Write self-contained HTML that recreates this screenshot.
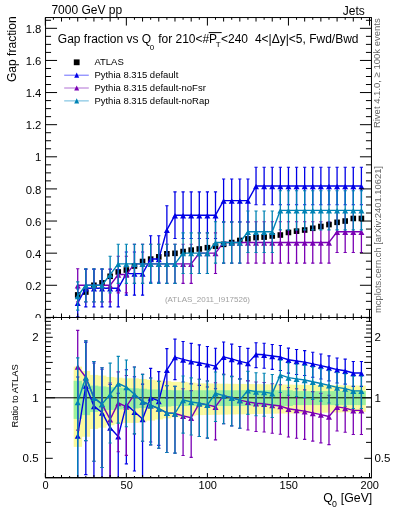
<!DOCTYPE html>
<html><head><meta charset="utf-8"><style>
html,body{margin:0;padding:0;background:#fff;}
svg{display:block;will-change:transform;}
text{font-family:"Liberation Sans", sans-serif;}
</style></head><body>
<svg width="393" height="512" viewBox="0 0 393 512">
<rect width="393" height="512" fill="#fff"/>
<clipPath id="cm"><rect x="45.55" y="17.55" width="325.9" height="299.95"/></clipPath>
<clipPath id="cr"><rect x="45.55" y="317.5" width="325.9" height="160.0"/></clipPath>
<text x="41.40" y="322.00" font-size="11.3" text-anchor="end" fill="#000" >0</text>
<text x="41.40" y="289.88" font-size="11.3" text-anchor="end" fill="#000" >0.2</text>
<text x="41.40" y="257.76" font-size="11.3" text-anchor="end" fill="#000" >0.4</text>
<text x="41.40" y="225.64" font-size="11.3" text-anchor="end" fill="#000" >0.6</text>
<text x="41.40" y="193.52" font-size="11.3" text-anchor="end" fill="#000" >0.8</text>
<text x="41.40" y="161.40" font-size="11.3" text-anchor="end" fill="#000" >1</text>
<text x="41.40" y="129.28" font-size="11.3" text-anchor="end" fill="#000" >1.2</text>
<text x="41.40" y="97.16" font-size="11.3" text-anchor="end" fill="#000" >1.4</text>
<text x="41.40" y="65.04" font-size="11.3" text-anchor="end" fill="#000" >1.6</text>
<text x="41.40" y="32.92" font-size="11.3" text-anchor="end" fill="#000" >1.8</text>
<g clip-path="url(#cm)">
<rect x="74.92" y="292.12" width="5.6" height="5.6" fill="#000"/>
<rect x="83.02" y="289.23" width="5.6" height="5.6" fill="#000"/>
<rect x="91.13" y="282.48" width="5.6" height="5.6" fill="#000"/>
<rect x="99.23" y="280.07" width="5.6" height="5.6" fill="#000"/>
<rect x="107.34" y="273.49" width="5.6" height="5.6" fill="#000"/>
<rect x="115.44" y="269.15" width="5.6" height="5.6" fill="#000"/>
<rect x="123.55" y="267.22" width="5.6" height="5.6" fill="#000"/>
<rect x="131.65" y="263.21" width="5.6" height="5.6" fill="#000"/>
<rect x="139.76" y="258.71" width="5.6" height="5.6" fill="#000"/>
<rect x="147.86" y="256.30" width="5.6" height="5.6" fill="#000"/>
<rect x="155.97" y="254.05" width="5.6" height="5.6" fill="#000"/>
<rect x="164.07" y="251.00" width="5.6" height="5.6" fill="#000"/>
<rect x="172.18" y="250.52" width="5.6" height="5.6" fill="#000"/>
<rect x="180.28" y="248.75" width="5.6" height="5.6" fill="#000"/>
<rect x="188.39" y="247.31" width="5.6" height="5.6" fill="#000"/>
<rect x="196.50" y="246.18" width="5.6" height="5.6" fill="#000"/>
<rect x="204.60" y="244.90" width="5.6" height="5.6" fill="#000"/>
<rect x="212.70" y="243.45" width="5.6" height="5.6" fill="#000"/>
<rect x="220.81" y="241.53" width="5.6" height="5.6" fill="#000"/>
<rect x="228.91" y="239.76" width="5.6" height="5.6" fill="#000"/>
<rect x="237.02" y="237.67" width="5.6" height="5.6" fill="#000"/>
<rect x="245.12" y="236.07" width="5.6" height="5.6" fill="#000"/>
<rect x="253.23" y="234.78" width="5.6" height="5.6" fill="#000"/>
<rect x="261.33" y="234.30" width="5.6" height="5.6" fill="#000"/>
<rect x="269.44" y="233.18" width="5.6" height="5.6" fill="#000"/>
<rect x="277.54" y="232.21" width="5.6" height="5.6" fill="#000"/>
<rect x="285.65" y="229.64" width="5.6" height="5.6" fill="#000"/>
<rect x="293.75" y="228.36" width="5.6" height="5.6" fill="#000"/>
<rect x="301.86" y="227.23" width="5.6" height="5.6" fill="#000"/>
<rect x="309.96" y="225.47" width="5.6" height="5.6" fill="#000"/>
<rect x="318.07" y="223.70" width="5.6" height="5.6" fill="#000"/>
<rect x="326.18" y="221.77" width="5.6" height="5.6" fill="#000"/>
<rect x="334.28" y="219.52" width="5.6" height="5.6" fill="#000"/>
<rect x="342.38" y="218.24" width="5.6" height="5.6" fill="#000"/>
<rect x="350.49" y="215.67" width="5.6" height="5.6" fill="#000"/>
<rect x="358.60" y="215.67" width="5.6" height="5.6" fill="#000"/>
<polyline points="77.72,302.80 85.82,288.20 93.93,288.20 102.03,288.20 110.14,288.20 118.24,288.20 126.35,273.60 134.45,273.60 142.56,273.60 150.66,259.00 158.77,259.00 166.88,229.80 174.98,215.20 183.08,215.20 191.19,215.20 199.30,215.20 207.40,215.20 215.50,215.20 223.61,200.60 231.71,200.60 239.82,200.60 247.93,200.60 256.03,186.00 264.13,186.00 272.24,186.00 280.34,186.00 288.45,186.00 296.56,186.00 304.66,186.00 312.76,186.00 320.87,186.00 328.98,186.00 337.08,186.00 345.19,186.00 353.29,186.00 361.40,186.00" fill="none" stroke="#0000e6" stroke-width="1.4" stroke-linejoin="round"/>
<line x1="77.72" y1="316.72" x2="77.72" y2="288.88" stroke="#0000e6" stroke-width="1.3"/>
<line x1="76.12" y1="316.72" x2="79.32" y2="316.72" stroke="#0000e6" stroke-width="1.1"/>
<line x1="76.12" y1="288.88" x2="79.32" y2="288.88" stroke="#0000e6" stroke-width="1.1"/>
<line x1="85.82" y1="306.88" x2="85.82" y2="269.52" stroke="#0000e6" stroke-width="1.3"/>
<line x1="84.22" y1="306.88" x2="87.42" y2="306.88" stroke="#0000e6" stroke-width="1.1"/>
<line x1="84.22" y1="269.52" x2="87.42" y2="269.52" stroke="#0000e6" stroke-width="1.1"/>
<line x1="93.93" y1="306.88" x2="93.93" y2="269.52" stroke="#0000e6" stroke-width="1.3"/>
<line x1="92.33" y1="306.88" x2="95.53" y2="306.88" stroke="#0000e6" stroke-width="1.1"/>
<line x1="92.33" y1="269.52" x2="95.53" y2="269.52" stroke="#0000e6" stroke-width="1.1"/>
<line x1="102.03" y1="306.88" x2="102.03" y2="269.52" stroke="#0000e6" stroke-width="1.3"/>
<line x1="100.44" y1="306.88" x2="103.63" y2="306.88" stroke="#0000e6" stroke-width="1.1"/>
<line x1="100.44" y1="269.52" x2="103.63" y2="269.52" stroke="#0000e6" stroke-width="1.1"/>
<line x1="110.14" y1="306.88" x2="110.14" y2="269.52" stroke="#0000e6" stroke-width="1.3"/>
<line x1="108.54" y1="306.88" x2="111.74" y2="306.88" stroke="#0000e6" stroke-width="1.1"/>
<line x1="108.54" y1="269.52" x2="111.74" y2="269.52" stroke="#0000e6" stroke-width="1.1"/>
<line x1="118.24" y1="306.88" x2="118.24" y2="269.52" stroke="#0000e6" stroke-width="1.3"/>
<line x1="116.64" y1="306.88" x2="119.84" y2="306.88" stroke="#0000e6" stroke-width="1.1"/>
<line x1="116.64" y1="269.52" x2="119.84" y2="269.52" stroke="#0000e6" stroke-width="1.1"/>
<line x1="126.35" y1="295.17" x2="126.35" y2="252.03" stroke="#0000e6" stroke-width="1.3"/>
<line x1="124.75" y1="295.17" x2="127.95" y2="295.17" stroke="#0000e6" stroke-width="1.1"/>
<line x1="124.75" y1="252.03" x2="127.95" y2="252.03" stroke="#0000e6" stroke-width="1.1"/>
<line x1="134.45" y1="295.17" x2="134.45" y2="252.03" stroke="#0000e6" stroke-width="1.3"/>
<line x1="132.85" y1="295.17" x2="136.05" y2="295.17" stroke="#0000e6" stroke-width="1.1"/>
<line x1="132.85" y1="252.03" x2="136.05" y2="252.03" stroke="#0000e6" stroke-width="1.1"/>
<line x1="142.56" y1="295.17" x2="142.56" y2="252.03" stroke="#0000e6" stroke-width="1.3"/>
<line x1="140.96" y1="295.17" x2="144.16" y2="295.17" stroke="#0000e6" stroke-width="1.1"/>
<line x1="140.96" y1="252.03" x2="144.16" y2="252.03" stroke="#0000e6" stroke-width="1.1"/>
<line x1="150.66" y1="282.29" x2="150.66" y2="235.71" stroke="#0000e6" stroke-width="1.3"/>
<line x1="149.06" y1="282.29" x2="152.26" y2="282.29" stroke="#0000e6" stroke-width="1.1"/>
<line x1="149.06" y1="235.71" x2="152.26" y2="235.71" stroke="#0000e6" stroke-width="1.1"/>
<line x1="158.77" y1="282.29" x2="158.77" y2="235.71" stroke="#0000e6" stroke-width="1.3"/>
<line x1="157.17" y1="282.29" x2="160.37" y2="282.29" stroke="#0000e6" stroke-width="1.1"/>
<line x1="157.17" y1="235.71" x2="160.37" y2="235.71" stroke="#0000e6" stroke-width="1.1"/>
<line x1="166.88" y1="253.91" x2="166.88" y2="205.69" stroke="#0000e6" stroke-width="1.3"/>
<line x1="165.28" y1="253.91" x2="168.47" y2="253.91" stroke="#0000e6" stroke-width="1.1"/>
<line x1="165.28" y1="205.69" x2="168.47" y2="205.69" stroke="#0000e6" stroke-width="1.1"/>
<line x1="174.98" y1="238.49" x2="174.98" y2="191.91" stroke="#0000e6" stroke-width="1.3"/>
<line x1="173.38" y1="238.49" x2="176.58" y2="238.49" stroke="#0000e6" stroke-width="1.1"/>
<line x1="173.38" y1="191.91" x2="176.58" y2="191.91" stroke="#0000e6" stroke-width="1.1"/>
<line x1="183.08" y1="238.49" x2="183.08" y2="191.91" stroke="#0000e6" stroke-width="1.3"/>
<line x1="181.48" y1="238.49" x2="184.68" y2="238.49" stroke="#0000e6" stroke-width="1.1"/>
<line x1="181.48" y1="191.91" x2="184.68" y2="191.91" stroke="#0000e6" stroke-width="1.1"/>
<line x1="191.19" y1="238.49" x2="191.19" y2="191.91" stroke="#0000e6" stroke-width="1.3"/>
<line x1="189.59" y1="238.49" x2="192.79" y2="238.49" stroke="#0000e6" stroke-width="1.1"/>
<line x1="189.59" y1="191.91" x2="192.79" y2="191.91" stroke="#0000e6" stroke-width="1.1"/>
<line x1="199.30" y1="238.49" x2="199.30" y2="191.91" stroke="#0000e6" stroke-width="1.3"/>
<line x1="197.70" y1="238.49" x2="200.90" y2="238.49" stroke="#0000e6" stroke-width="1.1"/>
<line x1="197.70" y1="191.91" x2="200.90" y2="191.91" stroke="#0000e6" stroke-width="1.1"/>
<line x1="207.40" y1="238.49" x2="207.40" y2="191.91" stroke="#0000e6" stroke-width="1.3"/>
<line x1="205.80" y1="238.49" x2="209.00" y2="238.49" stroke="#0000e6" stroke-width="1.1"/>
<line x1="205.80" y1="191.91" x2="209.00" y2="191.91" stroke="#0000e6" stroke-width="1.1"/>
<line x1="215.50" y1="238.49" x2="215.50" y2="191.91" stroke="#0000e6" stroke-width="1.3"/>
<line x1="213.91" y1="238.49" x2="217.10" y2="238.49" stroke="#0000e6" stroke-width="1.1"/>
<line x1="213.91" y1="191.91" x2="217.10" y2="191.91" stroke="#0000e6" stroke-width="1.1"/>
<line x1="223.61" y1="222.17" x2="223.61" y2="179.03" stroke="#0000e6" stroke-width="1.3"/>
<line x1="222.01" y1="222.17" x2="225.21" y2="222.17" stroke="#0000e6" stroke-width="1.1"/>
<line x1="222.01" y1="179.03" x2="225.21" y2="179.03" stroke="#0000e6" stroke-width="1.1"/>
<line x1="231.71" y1="222.17" x2="231.71" y2="179.03" stroke="#0000e6" stroke-width="1.3"/>
<line x1="230.11" y1="222.17" x2="233.31" y2="222.17" stroke="#0000e6" stroke-width="1.1"/>
<line x1="230.11" y1="179.03" x2="233.31" y2="179.03" stroke="#0000e6" stroke-width="1.1"/>
<line x1="239.82" y1="222.17" x2="239.82" y2="179.03" stroke="#0000e6" stroke-width="1.3"/>
<line x1="238.22" y1="222.17" x2="241.42" y2="222.17" stroke="#0000e6" stroke-width="1.1"/>
<line x1="238.22" y1="179.03" x2="241.42" y2="179.03" stroke="#0000e6" stroke-width="1.1"/>
<line x1="247.93" y1="222.17" x2="247.93" y2="179.03" stroke="#0000e6" stroke-width="1.3"/>
<line x1="246.33" y1="222.17" x2="249.53" y2="222.17" stroke="#0000e6" stroke-width="1.1"/>
<line x1="246.33" y1="179.03" x2="249.53" y2="179.03" stroke="#0000e6" stroke-width="1.1"/>
<line x1="256.03" y1="204.68" x2="256.03" y2="167.32" stroke="#0000e6" stroke-width="1.3"/>
<line x1="254.43" y1="204.68" x2="257.63" y2="204.68" stroke="#0000e6" stroke-width="1.1"/>
<line x1="254.43" y1="167.32" x2="257.63" y2="167.32" stroke="#0000e6" stroke-width="1.1"/>
<line x1="264.13" y1="204.68" x2="264.13" y2="167.32" stroke="#0000e6" stroke-width="1.3"/>
<line x1="262.53" y1="204.68" x2="265.74" y2="204.68" stroke="#0000e6" stroke-width="1.1"/>
<line x1="262.53" y1="167.32" x2="265.74" y2="167.32" stroke="#0000e6" stroke-width="1.1"/>
<line x1="272.24" y1="204.68" x2="272.24" y2="167.32" stroke="#0000e6" stroke-width="1.3"/>
<line x1="270.64" y1="204.68" x2="273.84" y2="204.68" stroke="#0000e6" stroke-width="1.1"/>
<line x1="270.64" y1="167.32" x2="273.84" y2="167.32" stroke="#0000e6" stroke-width="1.1"/>
<line x1="280.34" y1="204.68" x2="280.34" y2="167.32" stroke="#0000e6" stroke-width="1.3"/>
<line x1="278.74" y1="204.68" x2="281.94" y2="204.68" stroke="#0000e6" stroke-width="1.1"/>
<line x1="278.74" y1="167.32" x2="281.94" y2="167.32" stroke="#0000e6" stroke-width="1.1"/>
<line x1="288.45" y1="204.68" x2="288.45" y2="167.32" stroke="#0000e6" stroke-width="1.3"/>
<line x1="286.85" y1="204.68" x2="290.05" y2="204.68" stroke="#0000e6" stroke-width="1.1"/>
<line x1="286.85" y1="167.32" x2="290.05" y2="167.32" stroke="#0000e6" stroke-width="1.1"/>
<line x1="296.56" y1="204.68" x2="296.56" y2="167.32" stroke="#0000e6" stroke-width="1.3"/>
<line x1="294.95" y1="204.68" x2="298.16" y2="204.68" stroke="#0000e6" stroke-width="1.1"/>
<line x1="294.95" y1="167.32" x2="298.16" y2="167.32" stroke="#0000e6" stroke-width="1.1"/>
<line x1="304.66" y1="204.68" x2="304.66" y2="167.32" stroke="#0000e6" stroke-width="1.3"/>
<line x1="303.06" y1="204.68" x2="306.26" y2="204.68" stroke="#0000e6" stroke-width="1.1"/>
<line x1="303.06" y1="167.32" x2="306.26" y2="167.32" stroke="#0000e6" stroke-width="1.1"/>
<line x1="312.76" y1="204.68" x2="312.76" y2="167.32" stroke="#0000e6" stroke-width="1.3"/>
<line x1="311.16" y1="204.68" x2="314.37" y2="204.68" stroke="#0000e6" stroke-width="1.1"/>
<line x1="311.16" y1="167.32" x2="314.37" y2="167.32" stroke="#0000e6" stroke-width="1.1"/>
<line x1="320.87" y1="204.68" x2="320.87" y2="167.32" stroke="#0000e6" stroke-width="1.3"/>
<line x1="319.27" y1="204.68" x2="322.47" y2="204.68" stroke="#0000e6" stroke-width="1.1"/>
<line x1="319.27" y1="167.32" x2="322.47" y2="167.32" stroke="#0000e6" stroke-width="1.1"/>
<line x1="328.98" y1="204.68" x2="328.98" y2="167.32" stroke="#0000e6" stroke-width="1.3"/>
<line x1="327.38" y1="204.68" x2="330.58" y2="204.68" stroke="#0000e6" stroke-width="1.1"/>
<line x1="327.38" y1="167.32" x2="330.58" y2="167.32" stroke="#0000e6" stroke-width="1.1"/>
<line x1="337.08" y1="204.68" x2="337.08" y2="167.32" stroke="#0000e6" stroke-width="1.3"/>
<line x1="335.48" y1="204.68" x2="338.68" y2="204.68" stroke="#0000e6" stroke-width="1.1"/>
<line x1="335.48" y1="167.32" x2="338.68" y2="167.32" stroke="#0000e6" stroke-width="1.1"/>
<line x1="345.19" y1="204.68" x2="345.19" y2="167.32" stroke="#0000e6" stroke-width="1.3"/>
<line x1="343.58" y1="204.68" x2="346.79" y2="204.68" stroke="#0000e6" stroke-width="1.1"/>
<line x1="343.58" y1="167.32" x2="346.79" y2="167.32" stroke="#0000e6" stroke-width="1.1"/>
<line x1="353.29" y1="204.68" x2="353.29" y2="167.32" stroke="#0000e6" stroke-width="1.3"/>
<line x1="351.69" y1="204.68" x2="354.89" y2="204.68" stroke="#0000e6" stroke-width="1.1"/>
<line x1="351.69" y1="167.32" x2="354.89" y2="167.32" stroke="#0000e6" stroke-width="1.1"/>
<line x1="361.40" y1="204.68" x2="361.40" y2="167.32" stroke="#0000e6" stroke-width="1.3"/>
<line x1="359.80" y1="204.68" x2="363.00" y2="204.68" stroke="#0000e6" stroke-width="1.1"/>
<line x1="359.80" y1="167.32" x2="363.00" y2="167.32" stroke="#0000e6" stroke-width="1.1"/>
<path d="M74.72,306.00 L80.72,306.00 L77.72,300.50 Z" fill="#0000e6"/>
<path d="M82.82,291.40 L88.82,291.40 L85.82,285.90 Z" fill="#0000e6"/>
<path d="M90.93,291.40 L96.93,291.40 L93.93,285.90 Z" fill="#0000e6"/>
<path d="M99.03,291.40 L105.03,291.40 L102.03,285.90 Z" fill="#0000e6"/>
<path d="M107.14,291.40 L113.14,291.40 L110.14,285.90 Z" fill="#0000e6"/>
<path d="M115.24,291.40 L121.24,291.40 L118.24,285.90 Z" fill="#0000e6"/>
<path d="M123.35,276.80 L129.35,276.80 L126.35,271.30 Z" fill="#0000e6"/>
<path d="M131.45,276.80 L137.45,276.80 L134.45,271.30 Z" fill="#0000e6"/>
<path d="M139.56,276.80 L145.56,276.80 L142.56,271.30 Z" fill="#0000e6"/>
<path d="M147.66,262.20 L153.66,262.20 L150.66,256.70 Z" fill="#0000e6"/>
<path d="M155.77,262.20 L161.77,262.20 L158.77,256.70 Z" fill="#0000e6"/>
<path d="M163.88,233.00 L169.88,233.00 L166.88,227.50 Z" fill="#0000e6"/>
<path d="M171.98,218.40 L177.98,218.40 L174.98,212.90 Z" fill="#0000e6"/>
<path d="M180.08,218.40 L186.08,218.40 L183.08,212.90 Z" fill="#0000e6"/>
<path d="M188.19,218.40 L194.19,218.40 L191.19,212.90 Z" fill="#0000e6"/>
<path d="M196.30,218.40 L202.30,218.40 L199.30,212.90 Z" fill="#0000e6"/>
<path d="M204.40,218.40 L210.40,218.40 L207.40,212.90 Z" fill="#0000e6"/>
<path d="M212.50,218.40 L218.50,218.40 L215.50,212.90 Z" fill="#0000e6"/>
<path d="M220.61,203.80 L226.61,203.80 L223.61,198.30 Z" fill="#0000e6"/>
<path d="M228.71,203.80 L234.71,203.80 L231.71,198.30 Z" fill="#0000e6"/>
<path d="M236.82,203.80 L242.82,203.80 L239.82,198.30 Z" fill="#0000e6"/>
<path d="M244.93,203.80 L250.93,203.80 L247.93,198.30 Z" fill="#0000e6"/>
<path d="M253.03,189.20 L259.03,189.20 L256.03,183.70 Z" fill="#0000e6"/>
<path d="M261.13,189.20 L267.13,189.20 L264.13,183.70 Z" fill="#0000e6"/>
<path d="M269.24,189.20 L275.24,189.20 L272.24,183.70 Z" fill="#0000e6"/>
<path d="M277.34,189.20 L283.34,189.20 L280.34,183.70 Z" fill="#0000e6"/>
<path d="M285.45,189.20 L291.45,189.20 L288.45,183.70 Z" fill="#0000e6"/>
<path d="M293.56,189.20 L299.56,189.20 L296.56,183.70 Z" fill="#0000e6"/>
<path d="M301.66,189.20 L307.66,189.20 L304.66,183.70 Z" fill="#0000e6"/>
<path d="M309.76,189.20 L315.76,189.20 L312.76,183.70 Z" fill="#0000e6"/>
<path d="M317.87,189.20 L323.87,189.20 L320.87,183.70 Z" fill="#0000e6"/>
<path d="M325.98,189.20 L331.98,189.20 L328.98,183.70 Z" fill="#0000e6"/>
<path d="M334.08,189.20 L340.08,189.20 L337.08,183.70 Z" fill="#0000e6"/>
<path d="M342.19,189.20 L348.19,189.20 L345.19,183.70 Z" fill="#0000e6"/>
<path d="M350.29,189.20 L356.29,189.20 L353.29,183.70 Z" fill="#0000e6"/>
<path d="M358.40,189.20 L364.40,189.20 L361.40,183.70 Z" fill="#0000e6"/>
<polyline points="77.72,285.28 85.82,285.28 93.93,285.28 102.03,285.28 110.14,285.28 118.24,274.57 126.35,274.57 134.45,263.87 142.56,263.87 150.66,263.87 158.77,263.87 166.88,263.87 174.98,263.87 183.08,263.87 191.19,263.87 199.30,253.16 207.40,253.16 215.50,253.16 223.61,242.45 231.71,242.45 239.82,242.45 247.93,242.45 256.03,242.45 264.13,242.45 272.24,242.45 280.34,242.45 288.45,242.45 296.56,242.45 304.66,242.45 312.76,242.45 320.87,242.45 328.98,242.45 337.08,231.75 345.19,231.75 353.29,231.75 361.40,231.75" fill="none" stroke="#7a00b4" stroke-width="1.4" stroke-linejoin="round"/>
<line x1="77.72" y1="301.87" x2="77.72" y2="268.69" stroke="#7a00b4" stroke-width="1.3"/>
<line x1="76.12" y1="301.87" x2="79.32" y2="301.87" stroke="#7a00b4" stroke-width="1.1"/>
<line x1="76.12" y1="268.69" x2="79.32" y2="268.69" stroke="#7a00b4" stroke-width="1.1"/>
<line x1="85.82" y1="301.87" x2="85.82" y2="268.69" stroke="#7a00b4" stroke-width="1.3"/>
<line x1="84.22" y1="301.87" x2="87.42" y2="301.87" stroke="#7a00b4" stroke-width="1.1"/>
<line x1="84.22" y1="268.69" x2="87.42" y2="268.69" stroke="#7a00b4" stroke-width="1.1"/>
<line x1="93.93" y1="301.87" x2="93.93" y2="268.69" stroke="#7a00b4" stroke-width="1.3"/>
<line x1="92.33" y1="301.87" x2="95.53" y2="301.87" stroke="#7a00b4" stroke-width="1.1"/>
<line x1="92.33" y1="268.69" x2="95.53" y2="268.69" stroke="#7a00b4" stroke-width="1.1"/>
<line x1="102.03" y1="301.87" x2="102.03" y2="268.69" stroke="#7a00b4" stroke-width="1.3"/>
<line x1="100.44" y1="301.87" x2="103.63" y2="301.87" stroke="#7a00b4" stroke-width="1.1"/>
<line x1="100.44" y1="268.69" x2="103.63" y2="268.69" stroke="#7a00b4" stroke-width="1.1"/>
<line x1="110.14" y1="301.87" x2="110.14" y2="268.69" stroke="#7a00b4" stroke-width="1.3"/>
<line x1="108.54" y1="301.87" x2="111.74" y2="301.87" stroke="#7a00b4" stroke-width="1.1"/>
<line x1="108.54" y1="268.69" x2="111.74" y2="268.69" stroke="#7a00b4" stroke-width="1.1"/>
<line x1="118.24" y1="292.91" x2="118.24" y2="256.24" stroke="#7a00b4" stroke-width="1.3"/>
<line x1="116.64" y1="292.91" x2="119.84" y2="292.91" stroke="#7a00b4" stroke-width="1.1"/>
<line x1="116.64" y1="256.24" x2="119.84" y2="256.24" stroke="#7a00b4" stroke-width="1.1"/>
<line x1="126.35" y1="292.91" x2="126.35" y2="256.24" stroke="#7a00b4" stroke-width="1.3"/>
<line x1="124.75" y1="292.91" x2="127.95" y2="292.91" stroke="#7a00b4" stroke-width="1.1"/>
<line x1="124.75" y1="256.24" x2="127.95" y2="256.24" stroke="#7a00b4" stroke-width="1.1"/>
<line x1="134.45" y1="283.41" x2="134.45" y2="244.32" stroke="#7a00b4" stroke-width="1.3"/>
<line x1="132.85" y1="283.41" x2="136.05" y2="283.41" stroke="#7a00b4" stroke-width="1.1"/>
<line x1="132.85" y1="244.32" x2="136.05" y2="244.32" stroke="#7a00b4" stroke-width="1.1"/>
<line x1="142.56" y1="283.41" x2="142.56" y2="244.32" stroke="#7a00b4" stroke-width="1.3"/>
<line x1="140.96" y1="283.41" x2="144.16" y2="283.41" stroke="#7a00b4" stroke-width="1.1"/>
<line x1="140.96" y1="244.32" x2="144.16" y2="244.32" stroke="#7a00b4" stroke-width="1.1"/>
<line x1="150.66" y1="283.41" x2="150.66" y2="244.32" stroke="#7a00b4" stroke-width="1.3"/>
<line x1="149.06" y1="283.41" x2="152.26" y2="283.41" stroke="#7a00b4" stroke-width="1.1"/>
<line x1="149.06" y1="244.32" x2="152.26" y2="244.32" stroke="#7a00b4" stroke-width="1.1"/>
<line x1="158.77" y1="283.41" x2="158.77" y2="244.32" stroke="#7a00b4" stroke-width="1.3"/>
<line x1="157.17" y1="283.41" x2="160.37" y2="283.41" stroke="#7a00b4" stroke-width="1.1"/>
<line x1="157.17" y1="244.32" x2="160.37" y2="244.32" stroke="#7a00b4" stroke-width="1.1"/>
<line x1="166.88" y1="283.41" x2="166.88" y2="244.32" stroke="#7a00b4" stroke-width="1.3"/>
<line x1="165.28" y1="283.41" x2="168.47" y2="283.41" stroke="#7a00b4" stroke-width="1.1"/>
<line x1="165.28" y1="244.32" x2="168.47" y2="244.32" stroke="#7a00b4" stroke-width="1.1"/>
<line x1="174.98" y1="283.41" x2="174.98" y2="244.32" stroke="#7a00b4" stroke-width="1.3"/>
<line x1="173.38" y1="283.41" x2="176.58" y2="283.41" stroke="#7a00b4" stroke-width="1.1"/>
<line x1="173.38" y1="244.32" x2="176.58" y2="244.32" stroke="#7a00b4" stroke-width="1.1"/>
<line x1="183.08" y1="283.41" x2="183.08" y2="244.32" stroke="#7a00b4" stroke-width="1.3"/>
<line x1="181.48" y1="283.41" x2="184.68" y2="283.41" stroke="#7a00b4" stroke-width="1.1"/>
<line x1="181.48" y1="244.32" x2="184.68" y2="244.32" stroke="#7a00b4" stroke-width="1.1"/>
<line x1="191.19" y1="283.41" x2="191.19" y2="244.32" stroke="#7a00b4" stroke-width="1.3"/>
<line x1="189.59" y1="283.41" x2="192.79" y2="283.41" stroke="#7a00b4" stroke-width="1.1"/>
<line x1="189.59" y1="244.32" x2="192.79" y2="244.32" stroke="#7a00b4" stroke-width="1.1"/>
<line x1="199.30" y1="273.47" x2="199.30" y2="232.85" stroke="#7a00b4" stroke-width="1.3"/>
<line x1="197.70" y1="273.47" x2="200.90" y2="273.47" stroke="#7a00b4" stroke-width="1.1"/>
<line x1="197.70" y1="232.85" x2="200.90" y2="232.85" stroke="#7a00b4" stroke-width="1.1"/>
<line x1="207.40" y1="273.47" x2="207.40" y2="232.85" stroke="#7a00b4" stroke-width="1.3"/>
<line x1="205.80" y1="273.47" x2="209.00" y2="273.47" stroke="#7a00b4" stroke-width="1.1"/>
<line x1="205.80" y1="232.85" x2="209.00" y2="232.85" stroke="#7a00b4" stroke-width="1.1"/>
<line x1="215.50" y1="273.47" x2="215.50" y2="232.85" stroke="#7a00b4" stroke-width="1.3"/>
<line x1="213.91" y1="273.47" x2="217.10" y2="273.47" stroke="#7a00b4" stroke-width="1.1"/>
<line x1="213.91" y1="232.85" x2="217.10" y2="232.85" stroke="#7a00b4" stroke-width="1.1"/>
<line x1="223.61" y1="263.14" x2="223.61" y2="221.77" stroke="#7a00b4" stroke-width="1.3"/>
<line x1="222.01" y1="263.14" x2="225.21" y2="263.14" stroke="#7a00b4" stroke-width="1.1"/>
<line x1="222.01" y1="221.77" x2="225.21" y2="221.77" stroke="#7a00b4" stroke-width="1.1"/>
<line x1="231.71" y1="263.14" x2="231.71" y2="221.77" stroke="#7a00b4" stroke-width="1.3"/>
<line x1="230.11" y1="263.14" x2="233.31" y2="263.14" stroke="#7a00b4" stroke-width="1.1"/>
<line x1="230.11" y1="221.77" x2="233.31" y2="221.77" stroke="#7a00b4" stroke-width="1.1"/>
<line x1="239.82" y1="263.14" x2="239.82" y2="221.77" stroke="#7a00b4" stroke-width="1.3"/>
<line x1="238.22" y1="263.14" x2="241.42" y2="263.14" stroke="#7a00b4" stroke-width="1.1"/>
<line x1="238.22" y1="221.77" x2="241.42" y2="221.77" stroke="#7a00b4" stroke-width="1.1"/>
<line x1="247.93" y1="263.14" x2="247.93" y2="221.77" stroke="#7a00b4" stroke-width="1.3"/>
<line x1="246.33" y1="263.14" x2="249.53" y2="263.14" stroke="#7a00b4" stroke-width="1.1"/>
<line x1="246.33" y1="221.77" x2="249.53" y2="221.77" stroke="#7a00b4" stroke-width="1.1"/>
<line x1="256.03" y1="263.14" x2="256.03" y2="221.77" stroke="#7a00b4" stroke-width="1.3"/>
<line x1="254.43" y1="263.14" x2="257.63" y2="263.14" stroke="#7a00b4" stroke-width="1.1"/>
<line x1="254.43" y1="221.77" x2="257.63" y2="221.77" stroke="#7a00b4" stroke-width="1.1"/>
<line x1="264.13" y1="263.14" x2="264.13" y2="221.77" stroke="#7a00b4" stroke-width="1.3"/>
<line x1="262.53" y1="263.14" x2="265.74" y2="263.14" stroke="#7a00b4" stroke-width="1.1"/>
<line x1="262.53" y1="221.77" x2="265.74" y2="221.77" stroke="#7a00b4" stroke-width="1.1"/>
<line x1="272.24" y1="263.14" x2="272.24" y2="221.77" stroke="#7a00b4" stroke-width="1.3"/>
<line x1="270.64" y1="263.14" x2="273.84" y2="263.14" stroke="#7a00b4" stroke-width="1.1"/>
<line x1="270.64" y1="221.77" x2="273.84" y2="221.77" stroke="#7a00b4" stroke-width="1.1"/>
<line x1="280.34" y1="263.14" x2="280.34" y2="221.77" stroke="#7a00b4" stroke-width="1.3"/>
<line x1="278.74" y1="263.14" x2="281.94" y2="263.14" stroke="#7a00b4" stroke-width="1.1"/>
<line x1="278.74" y1="221.77" x2="281.94" y2="221.77" stroke="#7a00b4" stroke-width="1.1"/>
<line x1="288.45" y1="263.14" x2="288.45" y2="221.77" stroke="#7a00b4" stroke-width="1.3"/>
<line x1="286.85" y1="263.14" x2="290.05" y2="263.14" stroke="#7a00b4" stroke-width="1.1"/>
<line x1="286.85" y1="221.77" x2="290.05" y2="221.77" stroke="#7a00b4" stroke-width="1.1"/>
<line x1="296.56" y1="263.14" x2="296.56" y2="221.77" stroke="#7a00b4" stroke-width="1.3"/>
<line x1="294.95" y1="263.14" x2="298.16" y2="263.14" stroke="#7a00b4" stroke-width="1.1"/>
<line x1="294.95" y1="221.77" x2="298.16" y2="221.77" stroke="#7a00b4" stroke-width="1.1"/>
<line x1="304.66" y1="263.14" x2="304.66" y2="221.77" stroke="#7a00b4" stroke-width="1.3"/>
<line x1="303.06" y1="263.14" x2="306.26" y2="263.14" stroke="#7a00b4" stroke-width="1.1"/>
<line x1="303.06" y1="221.77" x2="306.26" y2="221.77" stroke="#7a00b4" stroke-width="1.1"/>
<line x1="312.76" y1="263.14" x2="312.76" y2="221.77" stroke="#7a00b4" stroke-width="1.3"/>
<line x1="311.16" y1="263.14" x2="314.37" y2="263.14" stroke="#7a00b4" stroke-width="1.1"/>
<line x1="311.16" y1="221.77" x2="314.37" y2="221.77" stroke="#7a00b4" stroke-width="1.1"/>
<line x1="320.87" y1="263.14" x2="320.87" y2="221.77" stroke="#7a00b4" stroke-width="1.3"/>
<line x1="319.27" y1="263.14" x2="322.47" y2="263.14" stroke="#7a00b4" stroke-width="1.1"/>
<line x1="319.27" y1="221.77" x2="322.47" y2="221.77" stroke="#7a00b4" stroke-width="1.1"/>
<line x1="328.98" y1="263.14" x2="328.98" y2="221.77" stroke="#7a00b4" stroke-width="1.3"/>
<line x1="327.38" y1="263.14" x2="330.58" y2="263.14" stroke="#7a00b4" stroke-width="1.1"/>
<line x1="327.38" y1="221.77" x2="330.58" y2="221.77" stroke="#7a00b4" stroke-width="1.1"/>
<line x1="337.08" y1="252.43" x2="337.08" y2="211.06" stroke="#7a00b4" stroke-width="1.3"/>
<line x1="335.48" y1="252.43" x2="338.68" y2="252.43" stroke="#7a00b4" stroke-width="1.1"/>
<line x1="335.48" y1="211.06" x2="338.68" y2="211.06" stroke="#7a00b4" stroke-width="1.1"/>
<line x1="345.19" y1="252.43" x2="345.19" y2="211.06" stroke="#7a00b4" stroke-width="1.3"/>
<line x1="343.58" y1="252.43" x2="346.79" y2="252.43" stroke="#7a00b4" stroke-width="1.1"/>
<line x1="343.58" y1="211.06" x2="346.79" y2="211.06" stroke="#7a00b4" stroke-width="1.1"/>
<line x1="353.29" y1="252.43" x2="353.29" y2="211.06" stroke="#7a00b4" stroke-width="1.3"/>
<line x1="351.69" y1="252.43" x2="354.89" y2="252.43" stroke="#7a00b4" stroke-width="1.1"/>
<line x1="351.69" y1="211.06" x2="354.89" y2="211.06" stroke="#7a00b4" stroke-width="1.1"/>
<line x1="361.40" y1="252.43" x2="361.40" y2="211.06" stroke="#7a00b4" stroke-width="1.3"/>
<line x1="359.80" y1="252.43" x2="363.00" y2="252.43" stroke="#7a00b4" stroke-width="1.1"/>
<line x1="359.80" y1="211.06" x2="363.00" y2="211.06" stroke="#7a00b4" stroke-width="1.1"/>
<path d="M74.72,288.48 L80.72,288.48 L77.72,282.98 Z" fill="#7a00b4"/>
<path d="M82.82,288.48 L88.82,288.48 L85.82,282.98 Z" fill="#7a00b4"/>
<path d="M90.93,288.48 L96.93,288.48 L93.93,282.98 Z" fill="#7a00b4"/>
<path d="M99.03,288.48 L105.03,288.48 L102.03,282.98 Z" fill="#7a00b4"/>
<path d="M107.14,288.48 L113.14,288.48 L110.14,282.98 Z" fill="#7a00b4"/>
<path d="M115.24,277.77 L121.24,277.77 L118.24,272.27 Z" fill="#7a00b4"/>
<path d="M123.35,277.77 L129.35,277.77 L126.35,272.27 Z" fill="#7a00b4"/>
<path d="M131.45,267.07 L137.45,267.07 L134.45,261.57 Z" fill="#7a00b4"/>
<path d="M139.56,267.07 L145.56,267.07 L142.56,261.57 Z" fill="#7a00b4"/>
<path d="M147.66,267.07 L153.66,267.07 L150.66,261.57 Z" fill="#7a00b4"/>
<path d="M155.77,267.07 L161.77,267.07 L158.77,261.57 Z" fill="#7a00b4"/>
<path d="M163.88,267.07 L169.88,267.07 L166.88,261.57 Z" fill="#7a00b4"/>
<path d="M171.98,267.07 L177.98,267.07 L174.98,261.57 Z" fill="#7a00b4"/>
<path d="M180.08,267.07 L186.08,267.07 L183.08,261.57 Z" fill="#7a00b4"/>
<path d="M188.19,267.07 L194.19,267.07 L191.19,261.57 Z" fill="#7a00b4"/>
<path d="M196.30,256.36 L202.30,256.36 L199.30,250.86 Z" fill="#7a00b4"/>
<path d="M204.40,256.36 L210.40,256.36 L207.40,250.86 Z" fill="#7a00b4"/>
<path d="M212.50,256.36 L218.50,256.36 L215.50,250.86 Z" fill="#7a00b4"/>
<path d="M220.61,245.65 L226.61,245.65 L223.61,240.15 Z" fill="#7a00b4"/>
<path d="M228.71,245.65 L234.71,245.65 L231.71,240.15 Z" fill="#7a00b4"/>
<path d="M236.82,245.65 L242.82,245.65 L239.82,240.15 Z" fill="#7a00b4"/>
<path d="M244.93,245.65 L250.93,245.65 L247.93,240.15 Z" fill="#7a00b4"/>
<path d="M253.03,245.65 L259.03,245.65 L256.03,240.15 Z" fill="#7a00b4"/>
<path d="M261.13,245.65 L267.13,245.65 L264.13,240.15 Z" fill="#7a00b4"/>
<path d="M269.24,245.65 L275.24,245.65 L272.24,240.15 Z" fill="#7a00b4"/>
<path d="M277.34,245.65 L283.34,245.65 L280.34,240.15 Z" fill="#7a00b4"/>
<path d="M285.45,245.65 L291.45,245.65 L288.45,240.15 Z" fill="#7a00b4"/>
<path d="M293.56,245.65 L299.56,245.65 L296.56,240.15 Z" fill="#7a00b4"/>
<path d="M301.66,245.65 L307.66,245.65 L304.66,240.15 Z" fill="#7a00b4"/>
<path d="M309.76,245.65 L315.76,245.65 L312.76,240.15 Z" fill="#7a00b4"/>
<path d="M317.87,245.65 L323.87,245.65 L320.87,240.15 Z" fill="#7a00b4"/>
<path d="M325.98,245.65 L331.98,245.65 L328.98,240.15 Z" fill="#7a00b4"/>
<path d="M334.08,234.95 L340.08,234.95 L337.08,229.45 Z" fill="#7a00b4"/>
<path d="M342.19,234.95 L348.19,234.95 L345.19,229.45 Z" fill="#7a00b4"/>
<path d="M350.29,234.95 L356.29,234.95 L353.29,229.45 Z" fill="#7a00b4"/>
<path d="M358.40,234.95 L364.40,234.95 L361.40,229.45 Z" fill="#7a00b4"/>
<polyline points="77.72,295.99 85.82,285.28 93.93,285.28 102.03,285.28 110.14,274.57 118.24,263.87 126.35,263.87 134.45,263.87 142.56,263.87 150.66,263.87 158.77,263.87 166.88,263.87 174.98,263.87 183.08,253.16 191.19,253.16 199.30,253.16 207.40,253.16 215.50,242.45 223.61,242.45 231.71,242.45 239.82,242.45 247.93,231.75 256.03,231.75 264.13,231.75 272.24,231.75 280.34,210.33 288.45,210.33 296.56,210.33 304.66,210.33 312.76,210.33 320.87,210.33 328.98,210.33 337.08,210.33 345.19,210.33 353.29,210.33 361.40,210.33" fill="none" stroke="#0083b4" stroke-width="1.4" stroke-linejoin="round"/>
<line x1="77.72" y1="310.08" x2="77.72" y2="281.89" stroke="#0083b4" stroke-width="1.3"/>
<line x1="76.12" y1="310.08" x2="79.32" y2="310.08" stroke="#0083b4" stroke-width="1.1"/>
<line x1="76.12" y1="281.89" x2="79.32" y2="281.89" stroke="#0083b4" stroke-width="1.1"/>
<line x1="85.82" y1="301.87" x2="85.82" y2="268.69" stroke="#0083b4" stroke-width="1.3"/>
<line x1="84.22" y1="301.87" x2="87.42" y2="301.87" stroke="#0083b4" stroke-width="1.1"/>
<line x1="84.22" y1="268.69" x2="87.42" y2="268.69" stroke="#0083b4" stroke-width="1.1"/>
<line x1="93.93" y1="301.87" x2="93.93" y2="268.69" stroke="#0083b4" stroke-width="1.3"/>
<line x1="92.33" y1="301.87" x2="95.53" y2="301.87" stroke="#0083b4" stroke-width="1.1"/>
<line x1="92.33" y1="268.69" x2="95.53" y2="268.69" stroke="#0083b4" stroke-width="1.1"/>
<line x1="102.03" y1="301.87" x2="102.03" y2="268.69" stroke="#0083b4" stroke-width="1.3"/>
<line x1="100.44" y1="301.87" x2="103.63" y2="301.87" stroke="#0083b4" stroke-width="1.1"/>
<line x1="100.44" y1="268.69" x2="103.63" y2="268.69" stroke="#0083b4" stroke-width="1.1"/>
<line x1="110.14" y1="292.91" x2="110.14" y2="256.24" stroke="#0083b4" stroke-width="1.3"/>
<line x1="108.54" y1="292.91" x2="111.74" y2="292.91" stroke="#0083b4" stroke-width="1.1"/>
<line x1="108.54" y1="256.24" x2="111.74" y2="256.24" stroke="#0083b4" stroke-width="1.1"/>
<line x1="118.24" y1="283.41" x2="118.24" y2="244.32" stroke="#0083b4" stroke-width="1.3"/>
<line x1="116.64" y1="283.41" x2="119.84" y2="283.41" stroke="#0083b4" stroke-width="1.1"/>
<line x1="116.64" y1="244.32" x2="119.84" y2="244.32" stroke="#0083b4" stroke-width="1.1"/>
<line x1="126.35" y1="283.41" x2="126.35" y2="244.32" stroke="#0083b4" stroke-width="1.3"/>
<line x1="124.75" y1="283.41" x2="127.95" y2="283.41" stroke="#0083b4" stroke-width="1.1"/>
<line x1="124.75" y1="244.32" x2="127.95" y2="244.32" stroke="#0083b4" stroke-width="1.1"/>
<line x1="134.45" y1="283.41" x2="134.45" y2="244.32" stroke="#0083b4" stroke-width="1.3"/>
<line x1="132.85" y1="283.41" x2="136.05" y2="283.41" stroke="#0083b4" stroke-width="1.1"/>
<line x1="132.85" y1="244.32" x2="136.05" y2="244.32" stroke="#0083b4" stroke-width="1.1"/>
<line x1="142.56" y1="283.41" x2="142.56" y2="244.32" stroke="#0083b4" stroke-width="1.3"/>
<line x1="140.96" y1="283.41" x2="144.16" y2="283.41" stroke="#0083b4" stroke-width="1.1"/>
<line x1="140.96" y1="244.32" x2="144.16" y2="244.32" stroke="#0083b4" stroke-width="1.1"/>
<line x1="150.66" y1="283.41" x2="150.66" y2="244.32" stroke="#0083b4" stroke-width="1.3"/>
<line x1="149.06" y1="283.41" x2="152.26" y2="283.41" stroke="#0083b4" stroke-width="1.1"/>
<line x1="149.06" y1="244.32" x2="152.26" y2="244.32" stroke="#0083b4" stroke-width="1.1"/>
<line x1="158.77" y1="283.41" x2="158.77" y2="244.32" stroke="#0083b4" stroke-width="1.3"/>
<line x1="157.17" y1="283.41" x2="160.37" y2="283.41" stroke="#0083b4" stroke-width="1.1"/>
<line x1="157.17" y1="244.32" x2="160.37" y2="244.32" stroke="#0083b4" stroke-width="1.1"/>
<line x1="166.88" y1="283.41" x2="166.88" y2="244.32" stroke="#0083b4" stroke-width="1.3"/>
<line x1="165.28" y1="283.41" x2="168.47" y2="283.41" stroke="#0083b4" stroke-width="1.1"/>
<line x1="165.28" y1="244.32" x2="168.47" y2="244.32" stroke="#0083b4" stroke-width="1.1"/>
<line x1="174.98" y1="283.41" x2="174.98" y2="244.32" stroke="#0083b4" stroke-width="1.3"/>
<line x1="173.38" y1="283.41" x2="176.58" y2="283.41" stroke="#0083b4" stroke-width="1.1"/>
<line x1="173.38" y1="244.32" x2="176.58" y2="244.32" stroke="#0083b4" stroke-width="1.1"/>
<line x1="183.08" y1="273.47" x2="183.08" y2="232.85" stroke="#0083b4" stroke-width="1.3"/>
<line x1="181.48" y1="273.47" x2="184.68" y2="273.47" stroke="#0083b4" stroke-width="1.1"/>
<line x1="181.48" y1="232.85" x2="184.68" y2="232.85" stroke="#0083b4" stroke-width="1.1"/>
<line x1="191.19" y1="273.47" x2="191.19" y2="232.85" stroke="#0083b4" stroke-width="1.3"/>
<line x1="189.59" y1="273.47" x2="192.79" y2="273.47" stroke="#0083b4" stroke-width="1.1"/>
<line x1="189.59" y1="232.85" x2="192.79" y2="232.85" stroke="#0083b4" stroke-width="1.1"/>
<line x1="199.30" y1="273.47" x2="199.30" y2="232.85" stroke="#0083b4" stroke-width="1.3"/>
<line x1="197.70" y1="273.47" x2="200.90" y2="273.47" stroke="#0083b4" stroke-width="1.1"/>
<line x1="197.70" y1="232.85" x2="200.90" y2="232.85" stroke="#0083b4" stroke-width="1.1"/>
<line x1="207.40" y1="273.47" x2="207.40" y2="232.85" stroke="#0083b4" stroke-width="1.3"/>
<line x1="205.80" y1="273.47" x2="209.00" y2="273.47" stroke="#0083b4" stroke-width="1.1"/>
<line x1="205.80" y1="232.85" x2="209.00" y2="232.85" stroke="#0083b4" stroke-width="1.1"/>
<line x1="215.50" y1="263.14" x2="215.50" y2="221.77" stroke="#0083b4" stroke-width="1.3"/>
<line x1="213.91" y1="263.14" x2="217.10" y2="263.14" stroke="#0083b4" stroke-width="1.1"/>
<line x1="213.91" y1="221.77" x2="217.10" y2="221.77" stroke="#0083b4" stroke-width="1.1"/>
<line x1="223.61" y1="263.14" x2="223.61" y2="221.77" stroke="#0083b4" stroke-width="1.3"/>
<line x1="222.01" y1="263.14" x2="225.21" y2="263.14" stroke="#0083b4" stroke-width="1.1"/>
<line x1="222.01" y1="221.77" x2="225.21" y2="221.77" stroke="#0083b4" stroke-width="1.1"/>
<line x1="231.71" y1="263.14" x2="231.71" y2="221.77" stroke="#0083b4" stroke-width="1.3"/>
<line x1="230.11" y1="263.14" x2="233.31" y2="263.14" stroke="#0083b4" stroke-width="1.1"/>
<line x1="230.11" y1="221.77" x2="233.31" y2="221.77" stroke="#0083b4" stroke-width="1.1"/>
<line x1="239.82" y1="263.14" x2="239.82" y2="221.77" stroke="#0083b4" stroke-width="1.3"/>
<line x1="238.22" y1="263.14" x2="241.42" y2="263.14" stroke="#0083b4" stroke-width="1.1"/>
<line x1="238.22" y1="221.77" x2="241.42" y2="221.77" stroke="#0083b4" stroke-width="1.1"/>
<line x1="247.93" y1="252.43" x2="247.93" y2="211.06" stroke="#0083b4" stroke-width="1.3"/>
<line x1="246.33" y1="252.43" x2="249.53" y2="252.43" stroke="#0083b4" stroke-width="1.1"/>
<line x1="246.33" y1="211.06" x2="249.53" y2="211.06" stroke="#0083b4" stroke-width="1.1"/>
<line x1="256.03" y1="252.43" x2="256.03" y2="211.06" stroke="#0083b4" stroke-width="1.3"/>
<line x1="254.43" y1="252.43" x2="257.63" y2="252.43" stroke="#0083b4" stroke-width="1.1"/>
<line x1="254.43" y1="211.06" x2="257.63" y2="211.06" stroke="#0083b4" stroke-width="1.1"/>
<line x1="264.13" y1="252.43" x2="264.13" y2="211.06" stroke="#0083b4" stroke-width="1.3"/>
<line x1="262.53" y1="252.43" x2="265.74" y2="252.43" stroke="#0083b4" stroke-width="1.1"/>
<line x1="262.53" y1="211.06" x2="265.74" y2="211.06" stroke="#0083b4" stroke-width="1.1"/>
<line x1="272.24" y1="252.43" x2="272.24" y2="211.06" stroke="#0083b4" stroke-width="1.3"/>
<line x1="270.64" y1="252.43" x2="273.84" y2="252.43" stroke="#0083b4" stroke-width="1.1"/>
<line x1="270.64" y1="211.06" x2="273.84" y2="211.06" stroke="#0083b4" stroke-width="1.1"/>
<line x1="280.34" y1="229.88" x2="280.34" y2="190.79" stroke="#0083b4" stroke-width="1.3"/>
<line x1="278.74" y1="229.88" x2="281.94" y2="229.88" stroke="#0083b4" stroke-width="1.1"/>
<line x1="278.74" y1="190.79" x2="281.94" y2="190.79" stroke="#0083b4" stroke-width="1.1"/>
<line x1="288.45" y1="229.88" x2="288.45" y2="190.79" stroke="#0083b4" stroke-width="1.3"/>
<line x1="286.85" y1="229.88" x2="290.05" y2="229.88" stroke="#0083b4" stroke-width="1.1"/>
<line x1="286.85" y1="190.79" x2="290.05" y2="190.79" stroke="#0083b4" stroke-width="1.1"/>
<line x1="296.56" y1="229.88" x2="296.56" y2="190.79" stroke="#0083b4" stroke-width="1.3"/>
<line x1="294.95" y1="229.88" x2="298.16" y2="229.88" stroke="#0083b4" stroke-width="1.1"/>
<line x1="294.95" y1="190.79" x2="298.16" y2="190.79" stroke="#0083b4" stroke-width="1.1"/>
<line x1="304.66" y1="229.88" x2="304.66" y2="190.79" stroke="#0083b4" stroke-width="1.3"/>
<line x1="303.06" y1="229.88" x2="306.26" y2="229.88" stroke="#0083b4" stroke-width="1.1"/>
<line x1="303.06" y1="190.79" x2="306.26" y2="190.79" stroke="#0083b4" stroke-width="1.1"/>
<line x1="312.76" y1="229.88" x2="312.76" y2="190.79" stroke="#0083b4" stroke-width="1.3"/>
<line x1="311.16" y1="229.88" x2="314.37" y2="229.88" stroke="#0083b4" stroke-width="1.1"/>
<line x1="311.16" y1="190.79" x2="314.37" y2="190.79" stroke="#0083b4" stroke-width="1.1"/>
<line x1="320.87" y1="229.88" x2="320.87" y2="190.79" stroke="#0083b4" stroke-width="1.3"/>
<line x1="319.27" y1="229.88" x2="322.47" y2="229.88" stroke="#0083b4" stroke-width="1.1"/>
<line x1="319.27" y1="190.79" x2="322.47" y2="190.79" stroke="#0083b4" stroke-width="1.1"/>
<line x1="328.98" y1="229.88" x2="328.98" y2="190.79" stroke="#0083b4" stroke-width="1.3"/>
<line x1="327.38" y1="229.88" x2="330.58" y2="229.88" stroke="#0083b4" stroke-width="1.1"/>
<line x1="327.38" y1="190.79" x2="330.58" y2="190.79" stroke="#0083b4" stroke-width="1.1"/>
<line x1="337.08" y1="229.88" x2="337.08" y2="190.79" stroke="#0083b4" stroke-width="1.3"/>
<line x1="335.48" y1="229.88" x2="338.68" y2="229.88" stroke="#0083b4" stroke-width="1.1"/>
<line x1="335.48" y1="190.79" x2="338.68" y2="190.79" stroke="#0083b4" stroke-width="1.1"/>
<line x1="345.19" y1="229.88" x2="345.19" y2="190.79" stroke="#0083b4" stroke-width="1.3"/>
<line x1="343.58" y1="229.88" x2="346.79" y2="229.88" stroke="#0083b4" stroke-width="1.1"/>
<line x1="343.58" y1="190.79" x2="346.79" y2="190.79" stroke="#0083b4" stroke-width="1.1"/>
<line x1="353.29" y1="229.88" x2="353.29" y2="190.79" stroke="#0083b4" stroke-width="1.3"/>
<line x1="351.69" y1="229.88" x2="354.89" y2="229.88" stroke="#0083b4" stroke-width="1.1"/>
<line x1="351.69" y1="190.79" x2="354.89" y2="190.79" stroke="#0083b4" stroke-width="1.1"/>
<line x1="361.40" y1="229.88" x2="361.40" y2="190.79" stroke="#0083b4" stroke-width="1.3"/>
<line x1="359.80" y1="229.88" x2="363.00" y2="229.88" stroke="#0083b4" stroke-width="1.1"/>
<line x1="359.80" y1="190.79" x2="363.00" y2="190.79" stroke="#0083b4" stroke-width="1.1"/>
<path d="M74.72,299.19 L80.72,299.19 L77.72,293.69 Z" fill="#0083b4"/>
<path d="M82.82,288.48 L88.82,288.48 L85.82,282.98 Z" fill="#0083b4"/>
<path d="M90.93,288.48 L96.93,288.48 L93.93,282.98 Z" fill="#0083b4"/>
<path d="M99.03,288.48 L105.03,288.48 L102.03,282.98 Z" fill="#0083b4"/>
<path d="M107.14,277.77 L113.14,277.77 L110.14,272.27 Z" fill="#0083b4"/>
<path d="M115.24,267.07 L121.24,267.07 L118.24,261.57 Z" fill="#0083b4"/>
<path d="M123.35,267.07 L129.35,267.07 L126.35,261.57 Z" fill="#0083b4"/>
<path d="M131.45,267.07 L137.45,267.07 L134.45,261.57 Z" fill="#0083b4"/>
<path d="M139.56,267.07 L145.56,267.07 L142.56,261.57 Z" fill="#0083b4"/>
<path d="M147.66,267.07 L153.66,267.07 L150.66,261.57 Z" fill="#0083b4"/>
<path d="M155.77,267.07 L161.77,267.07 L158.77,261.57 Z" fill="#0083b4"/>
<path d="M163.88,267.07 L169.88,267.07 L166.88,261.57 Z" fill="#0083b4"/>
<path d="M171.98,267.07 L177.98,267.07 L174.98,261.57 Z" fill="#0083b4"/>
<path d="M180.08,256.36 L186.08,256.36 L183.08,250.86 Z" fill="#0083b4"/>
<path d="M188.19,256.36 L194.19,256.36 L191.19,250.86 Z" fill="#0083b4"/>
<path d="M196.30,256.36 L202.30,256.36 L199.30,250.86 Z" fill="#0083b4"/>
<path d="M204.40,256.36 L210.40,256.36 L207.40,250.86 Z" fill="#0083b4"/>
<path d="M212.50,245.65 L218.50,245.65 L215.50,240.15 Z" fill="#0083b4"/>
<path d="M220.61,245.65 L226.61,245.65 L223.61,240.15 Z" fill="#0083b4"/>
<path d="M228.71,245.65 L234.71,245.65 L231.71,240.15 Z" fill="#0083b4"/>
<path d="M236.82,245.65 L242.82,245.65 L239.82,240.15 Z" fill="#0083b4"/>
<path d="M244.93,234.95 L250.93,234.95 L247.93,229.45 Z" fill="#0083b4"/>
<path d="M253.03,234.95 L259.03,234.95 L256.03,229.45 Z" fill="#0083b4"/>
<path d="M261.13,234.95 L267.13,234.95 L264.13,229.45 Z" fill="#0083b4"/>
<path d="M269.24,234.95 L275.24,234.95 L272.24,229.45 Z" fill="#0083b4"/>
<path d="M277.34,213.53 L283.34,213.53 L280.34,208.03 Z" fill="#0083b4"/>
<path d="M285.45,213.53 L291.45,213.53 L288.45,208.03 Z" fill="#0083b4"/>
<path d="M293.56,213.53 L299.56,213.53 L296.56,208.03 Z" fill="#0083b4"/>
<path d="M301.66,213.53 L307.66,213.53 L304.66,208.03 Z" fill="#0083b4"/>
<path d="M309.76,213.53 L315.76,213.53 L312.76,208.03 Z" fill="#0083b4"/>
<path d="M317.87,213.53 L323.87,213.53 L320.87,208.03 Z" fill="#0083b4"/>
<path d="M325.98,213.53 L331.98,213.53 L328.98,208.03 Z" fill="#0083b4"/>
<path d="M334.08,213.53 L340.08,213.53 L337.08,208.03 Z" fill="#0083b4"/>
<path d="M342.19,213.53 L348.19,213.53 L345.19,208.03 Z" fill="#0083b4"/>
<path d="M350.29,213.53 L356.29,213.53 L353.29,208.03 Z" fill="#0083b4"/>
<path d="M358.40,213.53 L364.40,213.53 L361.40,208.03 Z" fill="#0083b4"/>
</g>
<text x="207.50" y="302.40" font-size="8" text-anchor="middle" fill="#a0a0a0" >(ATLAS_2011_I917526)</text>
<rect x="0" y="318.0" width="393" height="194.5" fill="#fff"/>
<g clip-path="url(#cr)">
<rect x="73.67" y="366.58" width="8.41" height="80.28" fill="#fafa9e"/>
<rect x="81.77" y="370.96" width="8.41" height="65.79" fill="#fafa9e"/>
<rect x="89.88" y="374.90" width="8.40" height="54.03" fill="#fafa9e"/>
<rect x="97.98" y="375.57" width="8.41" height="52.12" fill="#fafa9e"/>
<rect x="106.09" y="376.94" width="8.40" height="48.33" fill="#fafa9e"/>
<rect x="114.19" y="377.63" width="8.41" height="46.45" fill="#fafa9e"/>
<rect x="122.30" y="378.32" width="8.41" height="44.59" fill="#fafa9e"/>
<rect x="130.40" y="378.32" width="8.40" height="44.59" fill="#fafa9e"/>
<rect x="138.51" y="379.02" width="8.41" height="42.73" fill="#fafa9e"/>
<rect x="146.61" y="379.73" width="8.40" height="40.88" fill="#fafa9e"/>
<rect x="154.72" y="380.44" width="8.40" height="39.04" fill="#fafa9e"/>
<rect x="162.82" y="381.16" width="8.41" height="37.21" fill="#fafa9e"/>
<rect x="170.93" y="381.89" width="8.40" height="35.39" fill="#fafa9e"/>
<rect x="179.03" y="381.89" width="8.41" height="35.39" fill="#fafa9e"/>
<rect x="187.14" y="382.62" width="8.41" height="33.58" fill="#fafa9e"/>
<rect x="195.24" y="383.35" width="8.41" height="31.77" fill="#fafa9e"/>
<rect x="203.35" y="383.46" width="8.40" height="31.50" fill="#fafa9e"/>
<rect x="211.45" y="383.58" width="8.41" height="31.23" fill="#fafa9e"/>
<rect x="219.56" y="383.69" width="8.41" height="30.96" fill="#fafa9e"/>
<rect x="227.66" y="383.80" width="8.40" height="30.69" fill="#fafa9e"/>
<rect x="235.77" y="383.91" width="8.41" height="30.42" fill="#fafa9e"/>
<rect x="243.87" y="384.02" width="8.41" height="30.15" fill="#fafa9e"/>
<rect x="251.98" y="384.13" width="8.40" height="29.88" fill="#fafa9e"/>
<rect x="260.08" y="384.25" width="8.41" height="29.61" fill="#fafa9e"/>
<rect x="268.19" y="384.36" width="8.41" height="29.34" fill="#fafa9e"/>
<rect x="276.29" y="384.47" width="8.40" height="29.07" fill="#fafa9e"/>
<rect x="284.40" y="384.58" width="8.41" height="28.80" fill="#fafa9e"/>
<rect x="292.50" y="384.70" width="8.41" height="28.53" fill="#fafa9e"/>
<rect x="300.61" y="384.81" width="8.41" height="28.26" fill="#fafa9e"/>
<rect x="308.71" y="384.92" width="8.40" height="27.99" fill="#fafa9e"/>
<rect x="316.82" y="385.03" width="8.41" height="27.72" fill="#fafa9e"/>
<rect x="324.92" y="385.15" width="8.41" height="27.46" fill="#fafa9e"/>
<rect x="333.03" y="385.26" width="8.40" height="27.19" fill="#fafa9e"/>
<rect x="341.13" y="385.37" width="8.41" height="26.92" fill="#fafa9e"/>
<rect x="349.24" y="385.49" width="8.41" height="26.65" fill="#fafa9e"/>
<rect x="357.34" y="385.60" width="8.40" height="26.38" fill="#fafa9e"/>
<rect x="73.67" y="380.80" width="8.41" height="38.13" fill="#9cf09c"/>
<rect x="81.77" y="383.35" width="8.41" height="31.77" fill="#9cf09c"/>
<rect x="89.88" y="385.60" width="8.40" height="26.38" fill="#9cf09c"/>
<rect x="97.98" y="386.36" width="8.41" height="24.60" fill="#9cf09c"/>
<rect x="106.09" y="387.13" width="8.40" height="22.82" fill="#9cf09c"/>
<rect x="114.19" y="387.52" width="8.41" height="21.94" fill="#9cf09c"/>
<rect x="122.30" y="387.91" width="8.41" height="21.05" fill="#9cf09c"/>
<rect x="130.40" y="388.30" width="8.40" height="20.16" fill="#9cf09c"/>
<rect x="138.51" y="388.69" width="8.41" height="19.28" fill="#9cf09c"/>
<rect x="146.61" y="389.48" width="8.40" height="17.52" fill="#9cf09c"/>
<rect x="154.72" y="389.48" width="8.40" height="17.52" fill="#9cf09c"/>
<rect x="162.82" y="389.88" width="8.41" height="16.63" fill="#9cf09c"/>
<rect x="170.93" y="390.28" width="8.40" height="15.75" fill="#9cf09c"/>
<rect x="179.03" y="390.28" width="8.41" height="15.75" fill="#9cf09c"/>
<rect x="187.14" y="390.28" width="8.41" height="15.75" fill="#9cf09c"/>
<rect x="195.24" y="390.28" width="8.41" height="15.75" fill="#9cf09c"/>
<rect x="203.35" y="390.28" width="8.40" height="15.75" fill="#9cf09c"/>
<rect x="211.45" y="390.28" width="8.41" height="15.75" fill="#9cf09c"/>
<rect x="219.56" y="390.28" width="8.41" height="15.75" fill="#9cf09c"/>
<rect x="227.66" y="390.28" width="8.40" height="15.75" fill="#9cf09c"/>
<rect x="235.77" y="390.28" width="8.41" height="15.75" fill="#9cf09c"/>
<rect x="243.87" y="390.28" width="8.41" height="15.75" fill="#9cf09c"/>
<rect x="251.98" y="390.28" width="8.40" height="15.75" fill="#9cf09c"/>
<rect x="260.08" y="390.28" width="8.41" height="15.75" fill="#9cf09c"/>
<rect x="268.19" y="390.28" width="8.41" height="15.75" fill="#9cf09c"/>
<rect x="276.29" y="390.28" width="8.40" height="15.75" fill="#9cf09c"/>
<rect x="284.40" y="390.28" width="8.41" height="15.75" fill="#9cf09c"/>
<rect x="292.50" y="391.08" width="8.41" height="14.00" fill="#9cf09c"/>
<rect x="300.61" y="391.08" width="8.41" height="14.00" fill="#9cf09c"/>
<rect x="308.71" y="391.08" width="8.40" height="14.00" fill="#9cf09c"/>
<rect x="316.82" y="391.08" width="8.41" height="14.00" fill="#9cf09c"/>
<rect x="324.92" y="391.08" width="8.41" height="14.00" fill="#9cf09c"/>
<rect x="333.03" y="391.08" width="8.40" height="14.00" fill="#9cf09c"/>
<rect x="341.13" y="391.08" width="8.41" height="14.00" fill="#9cf09c"/>
<rect x="349.24" y="391.08" width="8.41" height="14.00" fill="#9cf09c"/>
<rect x="357.34" y="391.08" width="8.40" height="14.00" fill="#9cf09c"/>
<line x1="45.55" y1="397.80" x2="371.45" y2="397.80" stroke="#000" stroke-width="1"/>
<polyline points="77.72,435.49 85.82,385.54 93.93,406.12 102.03,412.43 110.14,427.67 118.24,436.42 126.35,404.65 134.45,411.75 142.56,419.07 150.66,397.65 158.77,400.95 166.88,369.85 174.98,357.06 183.08,359.43 191.19,361.32 199.30,362.77 207.40,364.39 215.50,366.19 223.61,356.86 231.71,358.95 239.82,361.35 247.93,363.15 256.03,354.29 264.13,354.82 272.24,356.03 280.34,357.06 288.45,359.74 296.56,361.05 304.66,362.18 312.76,363.92 320.87,365.64 328.98,367.47 337.08,369.56 345.19,370.73 353.29,373.03 361.40,373.03" fill="none" stroke="#0000e6" stroke-width="1.4" stroke-linejoin="round"/>
<line x1="77.72" y1="703.23" x2="77.72" y2="377.04" stroke="#0000e6" stroke-width="1.3"/>
<line x1="76.12" y1="703.23" x2="79.32" y2="703.23" stroke="#0000e6" stroke-width="1.1"/>
<line x1="76.12" y1="377.04" x2="79.32" y2="377.04" stroke="#0000e6" stroke-width="1.1"/>
<line x1="85.82" y1="474.62" x2="85.82" y2="342.39" stroke="#0000e6" stroke-width="1.3"/>
<line x1="84.22" y1="474.62" x2="87.42" y2="474.62" stroke="#0000e6" stroke-width="1.1"/>
<line x1="84.22" y1="342.39" x2="87.42" y2="342.39" stroke="#0000e6" stroke-width="1.1"/>
<line x1="93.93" y1="495.20" x2="93.93" y2="362.96" stroke="#0000e6" stroke-width="1.3"/>
<line x1="92.33" y1="495.20" x2="95.53" y2="495.20" stroke="#0000e6" stroke-width="1.1"/>
<line x1="92.33" y1="362.96" x2="95.53" y2="362.96" stroke="#0000e6" stroke-width="1.1"/>
<line x1="102.03" y1="501.51" x2="102.03" y2="369.27" stroke="#0000e6" stroke-width="1.3"/>
<line x1="100.44" y1="501.51" x2="103.63" y2="501.51" stroke="#0000e6" stroke-width="1.1"/>
<line x1="100.44" y1="369.27" x2="103.63" y2="369.27" stroke="#0000e6" stroke-width="1.1"/>
<line x1="110.14" y1="516.74" x2="110.14" y2="384.51" stroke="#0000e6" stroke-width="1.3"/>
<line x1="108.54" y1="516.74" x2="111.74" y2="516.74" stroke="#0000e6" stroke-width="1.1"/>
<line x1="108.54" y1="384.51" x2="111.74" y2="384.51" stroke="#0000e6" stroke-width="1.1"/>
<line x1="118.24" y1="525.49" x2="118.24" y2="393.26" stroke="#0000e6" stroke-width="1.3"/>
<line x1="116.64" y1="525.49" x2="119.84" y2="525.49" stroke="#0000e6" stroke-width="1.1"/>
<line x1="116.64" y1="393.26" x2="119.84" y2="393.26" stroke="#0000e6" stroke-width="1.1"/>
<line x1="126.35" y1="463.83" x2="126.35" y2="369.71" stroke="#0000e6" stroke-width="1.3"/>
<line x1="124.75" y1="463.83" x2="127.95" y2="463.83" stroke="#0000e6" stroke-width="1.1"/>
<line x1="124.75" y1="369.71" x2="127.95" y2="369.71" stroke="#0000e6" stroke-width="1.1"/>
<line x1="134.45" y1="470.93" x2="134.45" y2="376.81" stroke="#0000e6" stroke-width="1.3"/>
<line x1="132.85" y1="470.93" x2="136.05" y2="470.93" stroke="#0000e6" stroke-width="1.1"/>
<line x1="132.85" y1="376.81" x2="136.05" y2="376.81" stroke="#0000e6" stroke-width="1.1"/>
<line x1="142.56" y1="478.25" x2="142.56" y2="384.13" stroke="#0000e6" stroke-width="1.3"/>
<line x1="140.96" y1="478.25" x2="144.16" y2="478.25" stroke="#0000e6" stroke-width="1.1"/>
<line x1="140.96" y1="384.13" x2="144.16" y2="384.13" stroke="#0000e6" stroke-width="1.1"/>
<line x1="150.66" y1="442.07" x2="150.66" y2="368.35" stroke="#0000e6" stroke-width="1.3"/>
<line x1="149.06" y1="442.07" x2="152.26" y2="442.07" stroke="#0000e6" stroke-width="1.1"/>
<line x1="149.06" y1="368.35" x2="152.26" y2="368.35" stroke="#0000e6" stroke-width="1.1"/>
<line x1="158.77" y1="445.37" x2="158.77" y2="371.65" stroke="#0000e6" stroke-width="1.3"/>
<line x1="157.17" y1="445.37" x2="160.37" y2="445.37" stroke="#0000e6" stroke-width="1.1"/>
<line x1="157.17" y1="371.65" x2="160.37" y2="371.65" stroke="#0000e6" stroke-width="1.1"/>
<line x1="166.88" y1="397.95" x2="166.88" y2="348.63" stroke="#0000e6" stroke-width="1.3"/>
<line x1="165.28" y1="397.95" x2="168.47" y2="397.95" stroke="#0000e6" stroke-width="1.1"/>
<line x1="165.28" y1="348.63" x2="168.47" y2="348.63" stroke="#0000e6" stroke-width="1.1"/>
<line x1="174.98" y1="379.63" x2="174.98" y2="339.13" stroke="#0000e6" stroke-width="1.3"/>
<line x1="173.38" y1="379.63" x2="176.58" y2="379.63" stroke="#0000e6" stroke-width="1.1"/>
<line x1="173.38" y1="339.13" x2="176.58" y2="339.13" stroke="#0000e6" stroke-width="1.1"/>
<line x1="183.08" y1="382.01" x2="183.08" y2="341.51" stroke="#0000e6" stroke-width="1.3"/>
<line x1="181.48" y1="382.01" x2="184.68" y2="382.01" stroke="#0000e6" stroke-width="1.1"/>
<line x1="181.48" y1="341.51" x2="184.68" y2="341.51" stroke="#0000e6" stroke-width="1.1"/>
<line x1="191.19" y1="383.90" x2="191.19" y2="343.40" stroke="#0000e6" stroke-width="1.3"/>
<line x1="189.59" y1="383.90" x2="192.79" y2="383.90" stroke="#0000e6" stroke-width="1.1"/>
<line x1="189.59" y1="343.40" x2="192.79" y2="343.40" stroke="#0000e6" stroke-width="1.1"/>
<line x1="199.30" y1="385.35" x2="199.30" y2="344.85" stroke="#0000e6" stroke-width="1.3"/>
<line x1="197.70" y1="385.35" x2="200.90" y2="385.35" stroke="#0000e6" stroke-width="1.1"/>
<line x1="197.70" y1="344.85" x2="200.90" y2="344.85" stroke="#0000e6" stroke-width="1.1"/>
<line x1="207.40" y1="386.97" x2="207.40" y2="346.47" stroke="#0000e6" stroke-width="1.3"/>
<line x1="205.80" y1="386.97" x2="209.00" y2="386.97" stroke="#0000e6" stroke-width="1.1"/>
<line x1="205.80" y1="346.47" x2="209.00" y2="346.47" stroke="#0000e6" stroke-width="1.1"/>
<line x1="215.50" y1="388.76" x2="215.50" y2="348.26" stroke="#0000e6" stroke-width="1.3"/>
<line x1="213.91" y1="388.76" x2="217.10" y2="388.76" stroke="#0000e6" stroke-width="1.1"/>
<line x1="213.91" y1="348.26" x2="217.10" y2="348.26" stroke="#0000e6" stroke-width="1.1"/>
<line x1="223.61" y1="374.68" x2="223.61" y2="342.07" stroke="#0000e6" stroke-width="1.3"/>
<line x1="222.01" y1="374.68" x2="225.21" y2="374.68" stroke="#0000e6" stroke-width="1.1"/>
<line x1="222.01" y1="342.07" x2="225.21" y2="342.07" stroke="#0000e6" stroke-width="1.1"/>
<line x1="231.71" y1="376.77" x2="231.71" y2="344.16" stroke="#0000e6" stroke-width="1.3"/>
<line x1="230.11" y1="376.77" x2="233.31" y2="376.77" stroke="#0000e6" stroke-width="1.1"/>
<line x1="230.11" y1="344.16" x2="233.31" y2="344.16" stroke="#0000e6" stroke-width="1.1"/>
<line x1="239.82" y1="379.17" x2="239.82" y2="346.56" stroke="#0000e6" stroke-width="1.3"/>
<line x1="238.22" y1="379.17" x2="241.42" y2="379.17" stroke="#0000e6" stroke-width="1.1"/>
<line x1="238.22" y1="346.56" x2="241.42" y2="346.56" stroke="#0000e6" stroke-width="1.1"/>
<line x1="247.93" y1="380.97" x2="247.93" y2="348.37" stroke="#0000e6" stroke-width="1.3"/>
<line x1="246.33" y1="380.97" x2="249.53" y2="380.97" stroke="#0000e6" stroke-width="1.1"/>
<line x1="246.33" y1="348.37" x2="249.53" y2="348.37" stroke="#0000e6" stroke-width="1.1"/>
<line x1="256.03" y1="367.67" x2="256.03" y2="342.69" stroke="#0000e6" stroke-width="1.3"/>
<line x1="254.43" y1="367.67" x2="257.63" y2="367.67" stroke="#0000e6" stroke-width="1.1"/>
<line x1="254.43" y1="342.69" x2="257.63" y2="342.69" stroke="#0000e6" stroke-width="1.1"/>
<line x1="264.13" y1="368.20" x2="264.13" y2="343.22" stroke="#0000e6" stroke-width="1.3"/>
<line x1="262.53" y1="368.20" x2="265.74" y2="368.20" stroke="#0000e6" stroke-width="1.1"/>
<line x1="262.53" y1="343.22" x2="265.74" y2="343.22" stroke="#0000e6" stroke-width="1.1"/>
<line x1="272.24" y1="369.41" x2="272.24" y2="344.43" stroke="#0000e6" stroke-width="1.3"/>
<line x1="270.64" y1="369.41" x2="273.84" y2="369.41" stroke="#0000e6" stroke-width="1.1"/>
<line x1="270.64" y1="344.43" x2="273.84" y2="344.43" stroke="#0000e6" stroke-width="1.1"/>
<line x1="280.34" y1="370.44" x2="280.34" y2="345.46" stroke="#0000e6" stroke-width="1.3"/>
<line x1="278.74" y1="370.44" x2="281.94" y2="370.44" stroke="#0000e6" stroke-width="1.1"/>
<line x1="278.74" y1="345.46" x2="281.94" y2="345.46" stroke="#0000e6" stroke-width="1.1"/>
<line x1="288.45" y1="373.12" x2="288.45" y2="348.14" stroke="#0000e6" stroke-width="1.3"/>
<line x1="286.85" y1="373.12" x2="290.05" y2="373.12" stroke="#0000e6" stroke-width="1.1"/>
<line x1="286.85" y1="348.14" x2="290.05" y2="348.14" stroke="#0000e6" stroke-width="1.1"/>
<line x1="296.56" y1="374.43" x2="296.56" y2="349.45" stroke="#0000e6" stroke-width="1.3"/>
<line x1="294.95" y1="374.43" x2="298.16" y2="374.43" stroke="#0000e6" stroke-width="1.1"/>
<line x1="294.95" y1="349.45" x2="298.16" y2="349.45" stroke="#0000e6" stroke-width="1.1"/>
<line x1="304.66" y1="375.56" x2="304.66" y2="350.58" stroke="#0000e6" stroke-width="1.3"/>
<line x1="303.06" y1="375.56" x2="306.26" y2="375.56" stroke="#0000e6" stroke-width="1.1"/>
<line x1="303.06" y1="350.58" x2="306.26" y2="350.58" stroke="#0000e6" stroke-width="1.1"/>
<line x1="312.76" y1="377.31" x2="312.76" y2="352.32" stroke="#0000e6" stroke-width="1.3"/>
<line x1="311.16" y1="377.31" x2="314.37" y2="377.31" stroke="#0000e6" stroke-width="1.1"/>
<line x1="311.16" y1="352.32" x2="314.37" y2="352.32" stroke="#0000e6" stroke-width="1.1"/>
<line x1="320.87" y1="379.02" x2="320.87" y2="354.04" stroke="#0000e6" stroke-width="1.3"/>
<line x1="319.27" y1="379.02" x2="322.47" y2="379.02" stroke="#0000e6" stroke-width="1.1"/>
<line x1="319.27" y1="354.04" x2="322.47" y2="354.04" stroke="#0000e6" stroke-width="1.1"/>
<line x1="328.98" y1="380.85" x2="328.98" y2="355.87" stroke="#0000e6" stroke-width="1.3"/>
<line x1="327.38" y1="380.85" x2="330.58" y2="380.85" stroke="#0000e6" stroke-width="1.1"/>
<line x1="327.38" y1="355.87" x2="330.58" y2="355.87" stroke="#0000e6" stroke-width="1.1"/>
<line x1="337.08" y1="382.94" x2="337.08" y2="357.96" stroke="#0000e6" stroke-width="1.3"/>
<line x1="335.48" y1="382.94" x2="338.68" y2="382.94" stroke="#0000e6" stroke-width="1.1"/>
<line x1="335.48" y1="357.96" x2="338.68" y2="357.96" stroke="#0000e6" stroke-width="1.1"/>
<line x1="345.19" y1="384.11" x2="345.19" y2="359.13" stroke="#0000e6" stroke-width="1.3"/>
<line x1="343.58" y1="384.11" x2="346.79" y2="384.11" stroke="#0000e6" stroke-width="1.1"/>
<line x1="343.58" y1="359.13" x2="346.79" y2="359.13" stroke="#0000e6" stroke-width="1.1"/>
<line x1="353.29" y1="386.41" x2="353.29" y2="361.43" stroke="#0000e6" stroke-width="1.3"/>
<line x1="351.69" y1="386.41" x2="354.89" y2="386.41" stroke="#0000e6" stroke-width="1.1"/>
<line x1="351.69" y1="361.43" x2="354.89" y2="361.43" stroke="#0000e6" stroke-width="1.1"/>
<line x1="361.40" y1="386.41" x2="361.40" y2="361.43" stroke="#0000e6" stroke-width="1.3"/>
<line x1="359.80" y1="386.41" x2="363.00" y2="386.41" stroke="#0000e6" stroke-width="1.1"/>
<line x1="359.80" y1="361.43" x2="363.00" y2="361.43" stroke="#0000e6" stroke-width="1.1"/>
<path d="M74.72,438.69 L80.72,438.69 L77.72,433.19 Z" fill="#0000e6"/>
<path d="M82.82,388.74 L88.82,388.74 L85.82,383.24 Z" fill="#0000e6"/>
<path d="M90.93,409.32 L96.93,409.32 L93.93,403.82 Z" fill="#0000e6"/>
<path d="M99.03,415.63 L105.03,415.63 L102.03,410.13 Z" fill="#0000e6"/>
<path d="M107.14,430.87 L113.14,430.87 L110.14,425.37 Z" fill="#0000e6"/>
<path d="M115.24,439.62 L121.24,439.62 L118.24,434.12 Z" fill="#0000e6"/>
<path d="M123.35,407.85 L129.35,407.85 L126.35,402.35 Z" fill="#0000e6"/>
<path d="M131.45,414.95 L137.45,414.95 L134.45,409.45 Z" fill="#0000e6"/>
<path d="M139.56,422.27 L145.56,422.27 L142.56,416.77 Z" fill="#0000e6"/>
<path d="M147.66,400.85 L153.66,400.85 L150.66,395.35 Z" fill="#0000e6"/>
<path d="M155.77,404.15 L161.77,404.15 L158.77,398.65 Z" fill="#0000e6"/>
<path d="M163.88,373.05 L169.88,373.05 L166.88,367.55 Z" fill="#0000e6"/>
<path d="M171.98,360.26 L177.98,360.26 L174.98,354.76 Z" fill="#0000e6"/>
<path d="M180.08,362.63 L186.08,362.63 L183.08,357.13 Z" fill="#0000e6"/>
<path d="M188.19,364.52 L194.19,364.52 L191.19,359.02 Z" fill="#0000e6"/>
<path d="M196.30,365.97 L202.30,365.97 L199.30,360.47 Z" fill="#0000e6"/>
<path d="M204.40,367.59 L210.40,367.59 L207.40,362.09 Z" fill="#0000e6"/>
<path d="M212.50,369.39 L218.50,369.39 L215.50,363.89 Z" fill="#0000e6"/>
<path d="M220.61,360.06 L226.61,360.06 L223.61,354.56 Z" fill="#0000e6"/>
<path d="M228.71,362.15 L234.71,362.15 L231.71,356.65 Z" fill="#0000e6"/>
<path d="M236.82,364.55 L242.82,364.55 L239.82,359.05 Z" fill="#0000e6"/>
<path d="M244.93,366.35 L250.93,366.35 L247.93,360.85 Z" fill="#0000e6"/>
<path d="M253.03,357.49 L259.03,357.49 L256.03,351.99 Z" fill="#0000e6"/>
<path d="M261.13,358.02 L267.13,358.02 L264.13,352.52 Z" fill="#0000e6"/>
<path d="M269.24,359.23 L275.24,359.23 L272.24,353.73 Z" fill="#0000e6"/>
<path d="M277.34,360.26 L283.34,360.26 L280.34,354.76 Z" fill="#0000e6"/>
<path d="M285.45,362.94 L291.45,362.94 L288.45,357.44 Z" fill="#0000e6"/>
<path d="M293.56,364.25 L299.56,364.25 L296.56,358.75 Z" fill="#0000e6"/>
<path d="M301.66,365.38 L307.66,365.38 L304.66,359.88 Z" fill="#0000e6"/>
<path d="M309.76,367.12 L315.76,367.12 L312.76,361.62 Z" fill="#0000e6"/>
<path d="M317.87,368.84 L323.87,368.84 L320.87,363.34 Z" fill="#0000e6"/>
<path d="M325.98,370.67 L331.98,370.67 L328.98,365.17 Z" fill="#0000e6"/>
<path d="M334.08,372.76 L340.08,372.76 L337.08,367.26 Z" fill="#0000e6"/>
<path d="M342.19,373.93 L348.19,373.93 L345.19,368.43 Z" fill="#0000e6"/>
<path d="M350.29,376.23 L356.29,376.23 L353.29,370.73 Z" fill="#0000e6"/>
<path d="M358.40,376.23 L364.40,376.23 L361.40,370.73 Z" fill="#0000e6"/>
<polyline points="77.72,366.67 85.82,377.23 93.93,397.80 102.03,404.11 110.14,419.35 118.24,402.99 126.35,406.61 134.45,394.24 142.56,401.56 150.66,405.24 158.77,408.54 166.88,412.84 174.98,413.50 183.08,415.87 191.19,417.76 199.30,403.30 207.40,404.92 215.50,406.71 223.61,395.59 231.71,397.68 239.82,400.08 247.93,401.88 256.03,403.30 264.13,403.82 272.24,405.04 280.34,406.06 288.45,408.74 296.56,410.05 304.66,411.18 312.76,412.93 320.87,414.64 328.98,416.47 337.08,406.91 345.19,408.08 353.29,410.38 361.40,410.38" fill="none" stroke="#7a00b4" stroke-width="1.4" stroke-linejoin="round"/>
<line x1="77.72" y1="430.08" x2="77.72" y2="330.33" stroke="#7a00b4" stroke-width="1.3"/>
<line x1="76.12" y1="430.08" x2="79.32" y2="430.08" stroke="#7a00b4" stroke-width="1.1"/>
<line x1="76.12" y1="330.33" x2="79.32" y2="330.33" stroke="#7a00b4" stroke-width="1.1"/>
<line x1="85.82" y1="440.64" x2="85.82" y2="340.89" stroke="#7a00b4" stroke-width="1.3"/>
<line x1="84.22" y1="440.64" x2="87.42" y2="440.64" stroke="#7a00b4" stroke-width="1.1"/>
<line x1="84.22" y1="340.89" x2="87.42" y2="340.89" stroke="#7a00b4" stroke-width="1.1"/>
<line x1="93.93" y1="461.21" x2="93.93" y2="361.46" stroke="#7a00b4" stroke-width="1.3"/>
<line x1="92.33" y1="461.21" x2="95.53" y2="461.21" stroke="#7a00b4" stroke-width="1.1"/>
<line x1="92.33" y1="361.46" x2="95.53" y2="361.46" stroke="#7a00b4" stroke-width="1.1"/>
<line x1="102.03" y1="467.52" x2="102.03" y2="367.77" stroke="#7a00b4" stroke-width="1.3"/>
<line x1="100.44" y1="467.52" x2="103.63" y2="467.52" stroke="#7a00b4" stroke-width="1.1"/>
<line x1="100.44" y1="367.77" x2="103.63" y2="367.77" stroke="#7a00b4" stroke-width="1.1"/>
<line x1="110.14" y1="482.76" x2="110.14" y2="383.01" stroke="#7a00b4" stroke-width="1.3"/>
<line x1="108.54" y1="482.76" x2="111.74" y2="482.76" stroke="#7a00b4" stroke-width="1.1"/>
<line x1="108.54" y1="383.01" x2="111.74" y2="383.01" stroke="#7a00b4" stroke-width="1.1"/>
<line x1="118.24" y1="451.77" x2="118.24" y2="371.88" stroke="#7a00b4" stroke-width="1.3"/>
<line x1="116.64" y1="451.77" x2="119.84" y2="451.77" stroke="#7a00b4" stroke-width="1.1"/>
<line x1="116.64" y1="371.88" x2="119.84" y2="371.88" stroke="#7a00b4" stroke-width="1.1"/>
<line x1="126.35" y1="455.40" x2="126.35" y2="375.51" stroke="#7a00b4" stroke-width="1.3"/>
<line x1="124.75" y1="455.40" x2="127.95" y2="455.40" stroke="#7a00b4" stroke-width="1.1"/>
<line x1="124.75" y1="375.51" x2="127.95" y2="375.51" stroke="#7a00b4" stroke-width="1.1"/>
<line x1="134.45" y1="433.90" x2="134.45" y2="367.07" stroke="#7a00b4" stroke-width="1.3"/>
<line x1="132.85" y1="433.90" x2="136.05" y2="433.90" stroke="#7a00b4" stroke-width="1.1"/>
<line x1="132.85" y1="367.07" x2="136.05" y2="367.07" stroke="#7a00b4" stroke-width="1.1"/>
<line x1="142.56" y1="441.22" x2="142.56" y2="374.39" stroke="#7a00b4" stroke-width="1.3"/>
<line x1="140.96" y1="441.22" x2="144.16" y2="441.22" stroke="#7a00b4" stroke-width="1.1"/>
<line x1="140.96" y1="374.39" x2="144.16" y2="374.39" stroke="#7a00b4" stroke-width="1.1"/>
<line x1="150.66" y1="444.90" x2="150.66" y2="378.07" stroke="#7a00b4" stroke-width="1.3"/>
<line x1="149.06" y1="444.90" x2="152.26" y2="444.90" stroke="#7a00b4" stroke-width="1.1"/>
<line x1="149.06" y1="378.07" x2="152.26" y2="378.07" stroke="#7a00b4" stroke-width="1.1"/>
<line x1="158.77" y1="448.20" x2="158.77" y2="381.38" stroke="#7a00b4" stroke-width="1.3"/>
<line x1="157.17" y1="448.20" x2="160.37" y2="448.20" stroke="#7a00b4" stroke-width="1.1"/>
<line x1="157.17" y1="381.38" x2="160.37" y2="381.38" stroke="#7a00b4" stroke-width="1.1"/>
<line x1="166.88" y1="452.49" x2="166.88" y2="385.67" stroke="#7a00b4" stroke-width="1.3"/>
<line x1="165.28" y1="452.49" x2="168.47" y2="452.49" stroke="#7a00b4" stroke-width="1.1"/>
<line x1="165.28" y1="385.67" x2="168.47" y2="385.67" stroke="#7a00b4" stroke-width="1.1"/>
<line x1="174.98" y1="453.15" x2="174.98" y2="386.33" stroke="#7a00b4" stroke-width="1.3"/>
<line x1="173.38" y1="453.15" x2="176.58" y2="453.15" stroke="#7a00b4" stroke-width="1.1"/>
<line x1="173.38" y1="386.33" x2="176.58" y2="386.33" stroke="#7a00b4" stroke-width="1.1"/>
<line x1="183.08" y1="455.53" x2="183.08" y2="388.70" stroke="#7a00b4" stroke-width="1.3"/>
<line x1="181.48" y1="455.53" x2="184.68" y2="455.53" stroke="#7a00b4" stroke-width="1.1"/>
<line x1="181.48" y1="388.70" x2="184.68" y2="388.70" stroke="#7a00b4" stroke-width="1.1"/>
<line x1="191.19" y1="457.42" x2="191.19" y2="390.60" stroke="#7a00b4" stroke-width="1.3"/>
<line x1="189.59" y1="457.42" x2="192.79" y2="457.42" stroke="#7a00b4" stroke-width="1.1"/>
<line x1="189.59" y1="390.60" x2="192.79" y2="390.60" stroke="#7a00b4" stroke-width="1.1"/>
<line x1="199.30" y1="436.48" x2="199.30" y2="379.31" stroke="#7a00b4" stroke-width="1.3"/>
<line x1="197.70" y1="436.48" x2="200.90" y2="436.48" stroke="#7a00b4" stroke-width="1.1"/>
<line x1="197.70" y1="379.31" x2="200.90" y2="379.31" stroke="#7a00b4" stroke-width="1.1"/>
<line x1="207.40" y1="438.10" x2="207.40" y2="380.94" stroke="#7a00b4" stroke-width="1.3"/>
<line x1="205.80" y1="438.10" x2="209.00" y2="438.10" stroke="#7a00b4" stroke-width="1.1"/>
<line x1="205.80" y1="380.94" x2="209.00" y2="380.94" stroke="#7a00b4" stroke-width="1.1"/>
<line x1="215.50" y1="439.89" x2="215.50" y2="382.73" stroke="#7a00b4" stroke-width="1.3"/>
<line x1="213.91" y1="439.89" x2="217.10" y2="439.89" stroke="#7a00b4" stroke-width="1.1"/>
<line x1="213.91" y1="382.73" x2="217.10" y2="382.73" stroke="#7a00b4" stroke-width="1.1"/>
<line x1="223.61" y1="423.78" x2="223.61" y2="374.31" stroke="#7a00b4" stroke-width="1.3"/>
<line x1="222.01" y1="423.78" x2="225.21" y2="423.78" stroke="#7a00b4" stroke-width="1.1"/>
<line x1="222.01" y1="374.31" x2="225.21" y2="374.31" stroke="#7a00b4" stroke-width="1.1"/>
<line x1="231.71" y1="425.87" x2="231.71" y2="376.40" stroke="#7a00b4" stroke-width="1.3"/>
<line x1="230.11" y1="425.87" x2="233.31" y2="425.87" stroke="#7a00b4" stroke-width="1.1"/>
<line x1="230.11" y1="376.40" x2="233.31" y2="376.40" stroke="#7a00b4" stroke-width="1.1"/>
<line x1="239.82" y1="428.27" x2="239.82" y2="378.80" stroke="#7a00b4" stroke-width="1.3"/>
<line x1="238.22" y1="428.27" x2="241.42" y2="428.27" stroke="#7a00b4" stroke-width="1.1"/>
<line x1="238.22" y1="378.80" x2="241.42" y2="378.80" stroke="#7a00b4" stroke-width="1.1"/>
<line x1="247.93" y1="430.07" x2="247.93" y2="380.60" stroke="#7a00b4" stroke-width="1.3"/>
<line x1="246.33" y1="430.07" x2="249.53" y2="430.07" stroke="#7a00b4" stroke-width="1.1"/>
<line x1="246.33" y1="380.60" x2="249.53" y2="380.60" stroke="#7a00b4" stroke-width="1.1"/>
<line x1="256.03" y1="431.49" x2="256.03" y2="382.02" stroke="#7a00b4" stroke-width="1.3"/>
<line x1="254.43" y1="431.49" x2="257.63" y2="431.49" stroke="#7a00b4" stroke-width="1.1"/>
<line x1="254.43" y1="382.02" x2="257.63" y2="382.02" stroke="#7a00b4" stroke-width="1.1"/>
<line x1="264.13" y1="432.01" x2="264.13" y2="382.55" stroke="#7a00b4" stroke-width="1.3"/>
<line x1="262.53" y1="432.01" x2="265.74" y2="432.01" stroke="#7a00b4" stroke-width="1.1"/>
<line x1="262.53" y1="382.55" x2="265.74" y2="382.55" stroke="#7a00b4" stroke-width="1.1"/>
<line x1="272.24" y1="433.23" x2="272.24" y2="383.76" stroke="#7a00b4" stroke-width="1.3"/>
<line x1="270.64" y1="433.23" x2="273.84" y2="433.23" stroke="#7a00b4" stroke-width="1.1"/>
<line x1="270.64" y1="383.76" x2="273.84" y2="383.76" stroke="#7a00b4" stroke-width="1.1"/>
<line x1="280.34" y1="434.25" x2="280.34" y2="384.79" stroke="#7a00b4" stroke-width="1.3"/>
<line x1="278.74" y1="434.25" x2="281.94" y2="434.25" stroke="#7a00b4" stroke-width="1.1"/>
<line x1="278.74" y1="384.79" x2="281.94" y2="384.79" stroke="#7a00b4" stroke-width="1.1"/>
<line x1="288.45" y1="436.94" x2="288.45" y2="387.47" stroke="#7a00b4" stroke-width="1.3"/>
<line x1="286.85" y1="436.94" x2="290.05" y2="436.94" stroke="#7a00b4" stroke-width="1.1"/>
<line x1="286.85" y1="387.47" x2="290.05" y2="387.47" stroke="#7a00b4" stroke-width="1.1"/>
<line x1="296.56" y1="438.25" x2="296.56" y2="388.78" stroke="#7a00b4" stroke-width="1.3"/>
<line x1="294.95" y1="438.25" x2="298.16" y2="438.25" stroke="#7a00b4" stroke-width="1.1"/>
<line x1="294.95" y1="388.78" x2="298.16" y2="388.78" stroke="#7a00b4" stroke-width="1.1"/>
<line x1="304.66" y1="439.38" x2="304.66" y2="389.91" stroke="#7a00b4" stroke-width="1.3"/>
<line x1="303.06" y1="439.38" x2="306.26" y2="439.38" stroke="#7a00b4" stroke-width="1.1"/>
<line x1="303.06" y1="389.91" x2="306.26" y2="389.91" stroke="#7a00b4" stroke-width="1.1"/>
<line x1="312.76" y1="441.12" x2="312.76" y2="391.66" stroke="#7a00b4" stroke-width="1.3"/>
<line x1="311.16" y1="441.12" x2="314.37" y2="441.12" stroke="#7a00b4" stroke-width="1.1"/>
<line x1="311.16" y1="391.66" x2="314.37" y2="391.66" stroke="#7a00b4" stroke-width="1.1"/>
<line x1="320.87" y1="442.84" x2="320.87" y2="393.37" stroke="#7a00b4" stroke-width="1.3"/>
<line x1="319.27" y1="442.84" x2="322.47" y2="442.84" stroke="#7a00b4" stroke-width="1.1"/>
<line x1="319.27" y1="393.37" x2="322.47" y2="393.37" stroke="#7a00b4" stroke-width="1.1"/>
<line x1="328.98" y1="444.67" x2="328.98" y2="395.20" stroke="#7a00b4" stroke-width="1.3"/>
<line x1="327.38" y1="444.67" x2="330.58" y2="444.67" stroke="#7a00b4" stroke-width="1.1"/>
<line x1="327.38" y1="395.20" x2="330.58" y2="395.20" stroke="#7a00b4" stroke-width="1.1"/>
<line x1="337.08" y1="431.04" x2="337.08" y2="388.03" stroke="#7a00b4" stroke-width="1.3"/>
<line x1="335.48" y1="431.04" x2="338.68" y2="431.04" stroke="#7a00b4" stroke-width="1.1"/>
<line x1="335.48" y1="388.03" x2="338.68" y2="388.03" stroke="#7a00b4" stroke-width="1.1"/>
<line x1="345.19" y1="432.21" x2="345.19" y2="389.20" stroke="#7a00b4" stroke-width="1.3"/>
<line x1="343.58" y1="432.21" x2="346.79" y2="432.21" stroke="#7a00b4" stroke-width="1.1"/>
<line x1="343.58" y1="389.20" x2="346.79" y2="389.20" stroke="#7a00b4" stroke-width="1.1"/>
<line x1="353.29" y1="434.51" x2="353.29" y2="391.49" stroke="#7a00b4" stroke-width="1.3"/>
<line x1="351.69" y1="434.51" x2="354.89" y2="434.51" stroke="#7a00b4" stroke-width="1.1"/>
<line x1="351.69" y1="391.49" x2="354.89" y2="391.49" stroke="#7a00b4" stroke-width="1.1"/>
<line x1="361.40" y1="434.51" x2="361.40" y2="391.49" stroke="#7a00b4" stroke-width="1.3"/>
<line x1="359.80" y1="434.51" x2="363.00" y2="434.51" stroke="#7a00b4" stroke-width="1.1"/>
<line x1="359.80" y1="391.49" x2="363.00" y2="391.49" stroke="#7a00b4" stroke-width="1.1"/>
<path d="M74.72,369.87 L80.72,369.87 L77.72,364.37 Z" fill="#7a00b4"/>
<path d="M82.82,380.43 L88.82,380.43 L85.82,374.93 Z" fill="#7a00b4"/>
<path d="M90.93,401.00 L96.93,401.00 L93.93,395.50 Z" fill="#7a00b4"/>
<path d="M99.03,407.31 L105.03,407.31 L102.03,401.81 Z" fill="#7a00b4"/>
<path d="M107.14,422.55 L113.14,422.55 L110.14,417.05 Z" fill="#7a00b4"/>
<path d="M115.24,406.19 L121.24,406.19 L118.24,400.69 Z" fill="#7a00b4"/>
<path d="M123.35,409.81 L129.35,409.81 L126.35,404.31 Z" fill="#7a00b4"/>
<path d="M131.45,397.44 L137.45,397.44 L134.45,391.94 Z" fill="#7a00b4"/>
<path d="M139.56,404.76 L145.56,404.76 L142.56,399.26 Z" fill="#7a00b4"/>
<path d="M147.66,408.44 L153.66,408.44 L150.66,402.94 Z" fill="#7a00b4"/>
<path d="M155.77,411.74 L161.77,411.74 L158.77,406.24 Z" fill="#7a00b4"/>
<path d="M163.88,416.04 L169.88,416.04 L166.88,410.54 Z" fill="#7a00b4"/>
<path d="M171.98,416.70 L177.98,416.70 L174.98,411.20 Z" fill="#7a00b4"/>
<path d="M180.08,419.07 L186.08,419.07 L183.08,413.57 Z" fill="#7a00b4"/>
<path d="M188.19,420.96 L194.19,420.96 L191.19,415.46 Z" fill="#7a00b4"/>
<path d="M196.30,406.50 L202.30,406.50 L199.30,401.00 Z" fill="#7a00b4"/>
<path d="M204.40,408.12 L210.40,408.12 L207.40,402.62 Z" fill="#7a00b4"/>
<path d="M212.50,409.91 L218.50,409.91 L215.50,404.41 Z" fill="#7a00b4"/>
<path d="M220.61,398.79 L226.61,398.79 L223.61,393.29 Z" fill="#7a00b4"/>
<path d="M228.71,400.88 L234.71,400.88 L231.71,395.38 Z" fill="#7a00b4"/>
<path d="M236.82,403.28 L242.82,403.28 L239.82,397.78 Z" fill="#7a00b4"/>
<path d="M244.93,405.08 L250.93,405.08 L247.93,399.58 Z" fill="#7a00b4"/>
<path d="M253.03,406.50 L259.03,406.50 L256.03,401.00 Z" fill="#7a00b4"/>
<path d="M261.13,407.02 L267.13,407.02 L264.13,401.52 Z" fill="#7a00b4"/>
<path d="M269.24,408.24 L275.24,408.24 L272.24,402.74 Z" fill="#7a00b4"/>
<path d="M277.34,409.26 L283.34,409.26 L280.34,403.76 Z" fill="#7a00b4"/>
<path d="M285.45,411.94 L291.45,411.94 L288.45,406.44 Z" fill="#7a00b4"/>
<path d="M293.56,413.25 L299.56,413.25 L296.56,407.75 Z" fill="#7a00b4"/>
<path d="M301.66,414.38 L307.66,414.38 L304.66,408.88 Z" fill="#7a00b4"/>
<path d="M309.76,416.13 L315.76,416.13 L312.76,410.63 Z" fill="#7a00b4"/>
<path d="M317.87,417.84 L323.87,417.84 L320.87,412.34 Z" fill="#7a00b4"/>
<path d="M325.98,419.67 L331.98,419.67 L328.98,414.17 Z" fill="#7a00b4"/>
<path d="M334.08,410.11 L340.08,410.11 L337.08,404.61 Z" fill="#7a00b4"/>
<path d="M342.19,411.28 L348.19,411.28 L345.19,405.78 Z" fill="#7a00b4"/>
<path d="M350.29,413.58 L356.29,413.58 L353.29,408.08 Z" fill="#7a00b4"/>
<path d="M358.40,413.58 L364.40,413.58 L361.40,408.08 Z" fill="#7a00b4"/>
<polyline points="77.72,402.06 85.82,377.23 93.93,397.80 102.03,404.11 110.14,394.24 118.24,383.51 126.35,387.14 134.45,394.24 142.56,401.56 150.66,405.24 158.77,408.54 166.88,412.84 174.98,413.50 183.08,399.96 191.19,401.85 199.30,403.30 207.40,404.92 215.50,393.26 223.61,395.59 231.71,397.68 239.82,400.08 247.93,390.23 256.03,391.64 264.13,392.17 272.24,393.38 280.34,374.93 288.45,377.61 296.56,378.92 304.66,380.05 312.76,381.80 320.87,383.51 328.98,385.34 337.08,387.43 345.19,388.60 353.29,390.90 361.40,390.90" fill="none" stroke="#0083b4" stroke-width="1.4" stroke-linejoin="round"/>
<line x1="77.72" y1="495.78" x2="77.72" y2="357.91" stroke="#0083b4" stroke-width="1.3"/>
<line x1="76.12" y1="495.78" x2="79.32" y2="495.78" stroke="#0083b4" stroke-width="1.1"/>
<line x1="76.12" y1="357.91" x2="79.32" y2="357.91" stroke="#0083b4" stroke-width="1.1"/>
<line x1="85.82" y1="440.64" x2="85.82" y2="340.89" stroke="#0083b4" stroke-width="1.3"/>
<line x1="84.22" y1="440.64" x2="87.42" y2="440.64" stroke="#0083b4" stroke-width="1.1"/>
<line x1="84.22" y1="340.89" x2="87.42" y2="340.89" stroke="#0083b4" stroke-width="1.1"/>
<line x1="93.93" y1="461.21" x2="93.93" y2="361.46" stroke="#0083b4" stroke-width="1.3"/>
<line x1="92.33" y1="461.21" x2="95.53" y2="461.21" stroke="#0083b4" stroke-width="1.1"/>
<line x1="92.33" y1="361.46" x2="95.53" y2="361.46" stroke="#0083b4" stroke-width="1.1"/>
<line x1="102.03" y1="467.52" x2="102.03" y2="367.77" stroke="#0083b4" stroke-width="1.3"/>
<line x1="100.44" y1="467.52" x2="103.63" y2="467.52" stroke="#0083b4" stroke-width="1.1"/>
<line x1="100.44" y1="367.77" x2="103.63" y2="367.77" stroke="#0083b4" stroke-width="1.1"/>
<line x1="110.14" y1="443.02" x2="110.14" y2="363.13" stroke="#0083b4" stroke-width="1.3"/>
<line x1="108.54" y1="443.02" x2="111.74" y2="443.02" stroke="#0083b4" stroke-width="1.1"/>
<line x1="108.54" y1="363.13" x2="111.74" y2="363.13" stroke="#0083b4" stroke-width="1.1"/>
<line x1="118.24" y1="423.17" x2="118.24" y2="356.34" stroke="#0083b4" stroke-width="1.3"/>
<line x1="116.64" y1="423.17" x2="119.84" y2="423.17" stroke="#0083b4" stroke-width="1.1"/>
<line x1="116.64" y1="356.34" x2="119.84" y2="356.34" stroke="#0083b4" stroke-width="1.1"/>
<line x1="126.35" y1="426.80" x2="126.35" y2="359.97" stroke="#0083b4" stroke-width="1.3"/>
<line x1="124.75" y1="426.80" x2="127.95" y2="426.80" stroke="#0083b4" stroke-width="1.1"/>
<line x1="124.75" y1="359.97" x2="127.95" y2="359.97" stroke="#0083b4" stroke-width="1.1"/>
<line x1="134.45" y1="433.90" x2="134.45" y2="367.07" stroke="#0083b4" stroke-width="1.3"/>
<line x1="132.85" y1="433.90" x2="136.05" y2="433.90" stroke="#0083b4" stroke-width="1.1"/>
<line x1="132.85" y1="367.07" x2="136.05" y2="367.07" stroke="#0083b4" stroke-width="1.1"/>
<line x1="142.56" y1="441.22" x2="142.56" y2="374.39" stroke="#0083b4" stroke-width="1.3"/>
<line x1="140.96" y1="441.22" x2="144.16" y2="441.22" stroke="#0083b4" stroke-width="1.1"/>
<line x1="140.96" y1="374.39" x2="144.16" y2="374.39" stroke="#0083b4" stroke-width="1.1"/>
<line x1="150.66" y1="444.90" x2="150.66" y2="378.07" stroke="#0083b4" stroke-width="1.3"/>
<line x1="149.06" y1="444.90" x2="152.26" y2="444.90" stroke="#0083b4" stroke-width="1.1"/>
<line x1="149.06" y1="378.07" x2="152.26" y2="378.07" stroke="#0083b4" stroke-width="1.1"/>
<line x1="158.77" y1="448.20" x2="158.77" y2="381.38" stroke="#0083b4" stroke-width="1.3"/>
<line x1="157.17" y1="448.20" x2="160.37" y2="448.20" stroke="#0083b4" stroke-width="1.1"/>
<line x1="157.17" y1="381.38" x2="160.37" y2="381.38" stroke="#0083b4" stroke-width="1.1"/>
<line x1="166.88" y1="452.49" x2="166.88" y2="385.67" stroke="#0083b4" stroke-width="1.3"/>
<line x1="165.28" y1="452.49" x2="168.47" y2="452.49" stroke="#0083b4" stroke-width="1.1"/>
<line x1="165.28" y1="385.67" x2="168.47" y2="385.67" stroke="#0083b4" stroke-width="1.1"/>
<line x1="174.98" y1="453.15" x2="174.98" y2="386.33" stroke="#0083b4" stroke-width="1.3"/>
<line x1="173.38" y1="453.15" x2="176.58" y2="453.15" stroke="#0083b4" stroke-width="1.1"/>
<line x1="173.38" y1="386.33" x2="176.58" y2="386.33" stroke="#0083b4" stroke-width="1.1"/>
<line x1="183.08" y1="433.13" x2="183.08" y2="375.97" stroke="#0083b4" stroke-width="1.3"/>
<line x1="181.48" y1="433.13" x2="184.68" y2="433.13" stroke="#0083b4" stroke-width="1.1"/>
<line x1="181.48" y1="375.97" x2="184.68" y2="375.97" stroke="#0083b4" stroke-width="1.1"/>
<line x1="191.19" y1="435.03" x2="191.19" y2="377.87" stroke="#0083b4" stroke-width="1.3"/>
<line x1="189.59" y1="435.03" x2="192.79" y2="435.03" stroke="#0083b4" stroke-width="1.1"/>
<line x1="189.59" y1="377.87" x2="192.79" y2="377.87" stroke="#0083b4" stroke-width="1.1"/>
<line x1="199.30" y1="436.48" x2="199.30" y2="379.31" stroke="#0083b4" stroke-width="1.3"/>
<line x1="197.70" y1="436.48" x2="200.90" y2="436.48" stroke="#0083b4" stroke-width="1.1"/>
<line x1="197.70" y1="379.31" x2="200.90" y2="379.31" stroke="#0083b4" stroke-width="1.1"/>
<line x1="207.40" y1="438.10" x2="207.40" y2="380.94" stroke="#0083b4" stroke-width="1.3"/>
<line x1="205.80" y1="438.10" x2="209.00" y2="438.10" stroke="#0083b4" stroke-width="1.1"/>
<line x1="205.80" y1="380.94" x2="209.00" y2="380.94" stroke="#0083b4" stroke-width="1.1"/>
<line x1="215.50" y1="421.45" x2="215.50" y2="371.98" stroke="#0083b4" stroke-width="1.3"/>
<line x1="213.91" y1="421.45" x2="217.10" y2="421.45" stroke="#0083b4" stroke-width="1.1"/>
<line x1="213.91" y1="371.98" x2="217.10" y2="371.98" stroke="#0083b4" stroke-width="1.1"/>
<line x1="223.61" y1="423.78" x2="223.61" y2="374.31" stroke="#0083b4" stroke-width="1.3"/>
<line x1="222.01" y1="423.78" x2="225.21" y2="423.78" stroke="#0083b4" stroke-width="1.1"/>
<line x1="222.01" y1="374.31" x2="225.21" y2="374.31" stroke="#0083b4" stroke-width="1.1"/>
<line x1="231.71" y1="425.87" x2="231.71" y2="376.40" stroke="#0083b4" stroke-width="1.3"/>
<line x1="230.11" y1="425.87" x2="233.31" y2="425.87" stroke="#0083b4" stroke-width="1.1"/>
<line x1="230.11" y1="376.40" x2="233.31" y2="376.40" stroke="#0083b4" stroke-width="1.1"/>
<line x1="239.82" y1="428.27" x2="239.82" y2="378.80" stroke="#0083b4" stroke-width="1.3"/>
<line x1="238.22" y1="428.27" x2="241.42" y2="428.27" stroke="#0083b4" stroke-width="1.1"/>
<line x1="238.22" y1="378.80" x2="241.42" y2="378.80" stroke="#0083b4" stroke-width="1.1"/>
<line x1="247.93" y1="414.35" x2="247.93" y2="371.34" stroke="#0083b4" stroke-width="1.3"/>
<line x1="246.33" y1="414.35" x2="249.53" y2="414.35" stroke="#0083b4" stroke-width="1.1"/>
<line x1="246.33" y1="371.34" x2="249.53" y2="371.34" stroke="#0083b4" stroke-width="1.1"/>
<line x1="256.03" y1="415.77" x2="256.03" y2="372.76" stroke="#0083b4" stroke-width="1.3"/>
<line x1="254.43" y1="415.77" x2="257.63" y2="415.77" stroke="#0083b4" stroke-width="1.1"/>
<line x1="254.43" y1="372.76" x2="257.63" y2="372.76" stroke="#0083b4" stroke-width="1.1"/>
<line x1="264.13" y1="416.30" x2="264.13" y2="373.28" stroke="#0083b4" stroke-width="1.3"/>
<line x1="262.53" y1="416.30" x2="265.74" y2="416.30" stroke="#0083b4" stroke-width="1.1"/>
<line x1="262.53" y1="373.28" x2="265.74" y2="373.28" stroke="#0083b4" stroke-width="1.1"/>
<line x1="272.24" y1="417.51" x2="272.24" y2="374.50" stroke="#0083b4" stroke-width="1.3"/>
<line x1="270.64" y1="417.51" x2="273.84" y2="417.51" stroke="#0083b4" stroke-width="1.1"/>
<line x1="270.64" y1="374.50" x2="273.84" y2="374.50" stroke="#0083b4" stroke-width="1.1"/>
<line x1="280.34" y1="392.53" x2="280.34" y2="360.29" stroke="#0083b4" stroke-width="1.3"/>
<line x1="278.74" y1="392.53" x2="281.94" y2="392.53" stroke="#0083b4" stroke-width="1.1"/>
<line x1="278.74" y1="360.29" x2="281.94" y2="360.29" stroke="#0083b4" stroke-width="1.1"/>
<line x1="288.45" y1="395.21" x2="288.45" y2="362.97" stroke="#0083b4" stroke-width="1.3"/>
<line x1="286.85" y1="395.21" x2="290.05" y2="395.21" stroke="#0083b4" stroke-width="1.1"/>
<line x1="286.85" y1="362.97" x2="290.05" y2="362.97" stroke="#0083b4" stroke-width="1.1"/>
<line x1="296.56" y1="396.52" x2="296.56" y2="364.28" stroke="#0083b4" stroke-width="1.3"/>
<line x1="294.95" y1="396.52" x2="298.16" y2="396.52" stroke="#0083b4" stroke-width="1.1"/>
<line x1="294.95" y1="364.28" x2="298.16" y2="364.28" stroke="#0083b4" stroke-width="1.1"/>
<line x1="304.66" y1="397.65" x2="304.66" y2="365.41" stroke="#0083b4" stroke-width="1.3"/>
<line x1="303.06" y1="397.65" x2="306.26" y2="397.65" stroke="#0083b4" stroke-width="1.1"/>
<line x1="303.06" y1="365.41" x2="306.26" y2="365.41" stroke="#0083b4" stroke-width="1.1"/>
<line x1="312.76" y1="399.39" x2="312.76" y2="367.16" stroke="#0083b4" stroke-width="1.3"/>
<line x1="311.16" y1="399.39" x2="314.37" y2="399.39" stroke="#0083b4" stroke-width="1.1"/>
<line x1="311.16" y1="367.16" x2="314.37" y2="367.16" stroke="#0083b4" stroke-width="1.1"/>
<line x1="320.87" y1="401.11" x2="320.87" y2="368.88" stroke="#0083b4" stroke-width="1.3"/>
<line x1="319.27" y1="401.11" x2="322.47" y2="401.11" stroke="#0083b4" stroke-width="1.1"/>
<line x1="319.27" y1="368.88" x2="322.47" y2="368.88" stroke="#0083b4" stroke-width="1.1"/>
<line x1="328.98" y1="402.94" x2="328.98" y2="370.71" stroke="#0083b4" stroke-width="1.3"/>
<line x1="327.38" y1="402.94" x2="330.58" y2="402.94" stroke="#0083b4" stroke-width="1.1"/>
<line x1="327.38" y1="370.71" x2="330.58" y2="370.71" stroke="#0083b4" stroke-width="1.1"/>
<line x1="337.08" y1="405.03" x2="337.08" y2="372.80" stroke="#0083b4" stroke-width="1.3"/>
<line x1="335.48" y1="405.03" x2="338.68" y2="405.03" stroke="#0083b4" stroke-width="1.1"/>
<line x1="335.48" y1="372.80" x2="338.68" y2="372.80" stroke="#0083b4" stroke-width="1.1"/>
<line x1="345.19" y1="406.20" x2="345.19" y2="373.97" stroke="#0083b4" stroke-width="1.3"/>
<line x1="343.58" y1="406.20" x2="346.79" y2="406.20" stroke="#0083b4" stroke-width="1.1"/>
<line x1="343.58" y1="373.97" x2="346.79" y2="373.97" stroke="#0083b4" stroke-width="1.1"/>
<line x1="353.29" y1="408.50" x2="353.29" y2="376.26" stroke="#0083b4" stroke-width="1.3"/>
<line x1="351.69" y1="408.50" x2="354.89" y2="408.50" stroke="#0083b4" stroke-width="1.1"/>
<line x1="351.69" y1="376.26" x2="354.89" y2="376.26" stroke="#0083b4" stroke-width="1.1"/>
<line x1="361.40" y1="408.50" x2="361.40" y2="376.26" stroke="#0083b4" stroke-width="1.3"/>
<line x1="359.80" y1="408.50" x2="363.00" y2="408.50" stroke="#0083b4" stroke-width="1.1"/>
<line x1="359.80" y1="376.26" x2="363.00" y2="376.26" stroke="#0083b4" stroke-width="1.1"/>
<path d="M74.72,405.26 L80.72,405.26 L77.72,399.76 Z" fill="#0083b4"/>
<path d="M82.82,380.43 L88.82,380.43 L85.82,374.93 Z" fill="#0083b4"/>
<path d="M90.93,401.00 L96.93,401.00 L93.93,395.50 Z" fill="#0083b4"/>
<path d="M99.03,407.31 L105.03,407.31 L102.03,401.81 Z" fill="#0083b4"/>
<path d="M107.14,397.44 L113.14,397.44 L110.14,391.94 Z" fill="#0083b4"/>
<path d="M115.24,386.71 L121.24,386.71 L118.24,381.21 Z" fill="#0083b4"/>
<path d="M123.35,390.34 L129.35,390.34 L126.35,384.84 Z" fill="#0083b4"/>
<path d="M131.45,397.44 L137.45,397.44 L134.45,391.94 Z" fill="#0083b4"/>
<path d="M139.56,404.76 L145.56,404.76 L142.56,399.26 Z" fill="#0083b4"/>
<path d="M147.66,408.44 L153.66,408.44 L150.66,402.94 Z" fill="#0083b4"/>
<path d="M155.77,411.74 L161.77,411.74 L158.77,406.24 Z" fill="#0083b4"/>
<path d="M163.88,416.04 L169.88,416.04 L166.88,410.54 Z" fill="#0083b4"/>
<path d="M171.98,416.70 L177.98,416.70 L174.98,411.20 Z" fill="#0083b4"/>
<path d="M180.08,403.16 L186.08,403.16 L183.08,397.66 Z" fill="#0083b4"/>
<path d="M188.19,405.05 L194.19,405.05 L191.19,399.55 Z" fill="#0083b4"/>
<path d="M196.30,406.50 L202.30,406.50 L199.30,401.00 Z" fill="#0083b4"/>
<path d="M204.40,408.12 L210.40,408.12 L207.40,402.62 Z" fill="#0083b4"/>
<path d="M212.50,396.46 L218.50,396.46 L215.50,390.96 Z" fill="#0083b4"/>
<path d="M220.61,398.79 L226.61,398.79 L223.61,393.29 Z" fill="#0083b4"/>
<path d="M228.71,400.88 L234.71,400.88 L231.71,395.38 Z" fill="#0083b4"/>
<path d="M236.82,403.28 L242.82,403.28 L239.82,397.78 Z" fill="#0083b4"/>
<path d="M244.93,393.43 L250.93,393.43 L247.93,387.93 Z" fill="#0083b4"/>
<path d="M253.03,394.84 L259.03,394.84 L256.03,389.34 Z" fill="#0083b4"/>
<path d="M261.13,395.37 L267.13,395.37 L264.13,389.87 Z" fill="#0083b4"/>
<path d="M269.24,396.58 L275.24,396.58 L272.24,391.08 Z" fill="#0083b4"/>
<path d="M277.34,378.13 L283.34,378.13 L280.34,372.63 Z" fill="#0083b4"/>
<path d="M285.45,380.81 L291.45,380.81 L288.45,375.31 Z" fill="#0083b4"/>
<path d="M293.56,382.12 L299.56,382.12 L296.56,376.62 Z" fill="#0083b4"/>
<path d="M301.66,383.25 L307.66,383.25 L304.66,377.75 Z" fill="#0083b4"/>
<path d="M309.76,385.00 L315.76,385.00 L312.76,379.50 Z" fill="#0083b4"/>
<path d="M317.87,386.71 L323.87,386.71 L320.87,381.21 Z" fill="#0083b4"/>
<path d="M325.98,388.54 L331.98,388.54 L328.98,383.04 Z" fill="#0083b4"/>
<path d="M334.08,390.63 L340.08,390.63 L337.08,385.13 Z" fill="#0083b4"/>
<path d="M342.19,391.80 L348.19,391.80 L345.19,386.30 Z" fill="#0083b4"/>
<path d="M350.29,394.10 L356.29,394.10 L353.29,388.60 Z" fill="#0083b4"/>
<path d="M358.40,394.10 L364.40,394.10 L361.40,388.60 Z" fill="#0083b4"/>
</g>
<line x1="45.55" y1="317.40" x2="57.05" y2="317.40" stroke="#000" stroke-width="1.0"/>
<line x1="371.45" y1="317.40" x2="359.95" y2="317.40" stroke="#000" stroke-width="1.0"/>
<line x1="45.55" y1="309.37" x2="51.05" y2="309.37" stroke="#000" stroke-width="1.0"/>
<line x1="371.45" y1="309.37" x2="365.95" y2="309.37" stroke="#000" stroke-width="1.0"/>
<line x1="45.55" y1="301.34" x2="51.05" y2="301.34" stroke="#000" stroke-width="1.0"/>
<line x1="371.45" y1="301.34" x2="365.95" y2="301.34" stroke="#000" stroke-width="1.0"/>
<line x1="45.55" y1="293.31" x2="51.05" y2="293.31" stroke="#000" stroke-width="1.0"/>
<line x1="371.45" y1="293.31" x2="365.95" y2="293.31" stroke="#000" stroke-width="1.0"/>
<line x1="45.55" y1="285.28" x2="57.05" y2="285.28" stroke="#000" stroke-width="1.0"/>
<line x1="371.45" y1="285.28" x2="359.95" y2="285.28" stroke="#000" stroke-width="1.0"/>
<line x1="45.55" y1="277.25" x2="51.05" y2="277.25" stroke="#000" stroke-width="1.0"/>
<line x1="371.45" y1="277.25" x2="365.95" y2="277.25" stroke="#000" stroke-width="1.0"/>
<line x1="45.55" y1="269.22" x2="51.05" y2="269.22" stroke="#000" stroke-width="1.0"/>
<line x1="371.45" y1="269.22" x2="365.95" y2="269.22" stroke="#000" stroke-width="1.0"/>
<line x1="45.55" y1="261.19" x2="51.05" y2="261.19" stroke="#000" stroke-width="1.0"/>
<line x1="371.45" y1="261.19" x2="365.95" y2="261.19" stroke="#000" stroke-width="1.0"/>
<line x1="45.55" y1="253.16" x2="57.05" y2="253.16" stroke="#000" stroke-width="1.0"/>
<line x1="371.45" y1="253.16" x2="359.95" y2="253.16" stroke="#000" stroke-width="1.0"/>
<line x1="45.55" y1="245.13" x2="51.05" y2="245.13" stroke="#000" stroke-width="1.0"/>
<line x1="371.45" y1="245.13" x2="365.95" y2="245.13" stroke="#000" stroke-width="1.0"/>
<line x1="45.55" y1="237.10" x2="51.05" y2="237.10" stroke="#000" stroke-width="1.0"/>
<line x1="371.45" y1="237.10" x2="365.95" y2="237.10" stroke="#000" stroke-width="1.0"/>
<line x1="45.55" y1="229.07" x2="51.05" y2="229.07" stroke="#000" stroke-width="1.0"/>
<line x1="371.45" y1="229.07" x2="365.95" y2="229.07" stroke="#000" stroke-width="1.0"/>
<line x1="45.55" y1="221.04" x2="57.05" y2="221.04" stroke="#000" stroke-width="1.0"/>
<line x1="371.45" y1="221.04" x2="359.95" y2="221.04" stroke="#000" stroke-width="1.0"/>
<line x1="45.55" y1="213.01" x2="51.05" y2="213.01" stroke="#000" stroke-width="1.0"/>
<line x1="371.45" y1="213.01" x2="365.95" y2="213.01" stroke="#000" stroke-width="1.0"/>
<line x1="45.55" y1="204.98" x2="51.05" y2="204.98" stroke="#000" stroke-width="1.0"/>
<line x1="371.45" y1="204.98" x2="365.95" y2="204.98" stroke="#000" stroke-width="1.0"/>
<line x1="45.55" y1="196.95" x2="51.05" y2="196.95" stroke="#000" stroke-width="1.0"/>
<line x1="371.45" y1="196.95" x2="365.95" y2="196.95" stroke="#000" stroke-width="1.0"/>
<line x1="45.55" y1="188.92" x2="57.05" y2="188.92" stroke="#000" stroke-width="1.0"/>
<line x1="371.45" y1="188.92" x2="359.95" y2="188.92" stroke="#000" stroke-width="1.0"/>
<line x1="45.55" y1="180.89" x2="51.05" y2="180.89" stroke="#000" stroke-width="1.0"/>
<line x1="371.45" y1="180.89" x2="365.95" y2="180.89" stroke="#000" stroke-width="1.0"/>
<line x1="45.55" y1="172.86" x2="51.05" y2="172.86" stroke="#000" stroke-width="1.0"/>
<line x1="371.45" y1="172.86" x2="365.95" y2="172.86" stroke="#000" stroke-width="1.0"/>
<line x1="45.55" y1="164.83" x2="51.05" y2="164.83" stroke="#000" stroke-width="1.0"/>
<line x1="371.45" y1="164.83" x2="365.95" y2="164.83" stroke="#000" stroke-width="1.0"/>
<line x1="45.55" y1="156.80" x2="57.05" y2="156.80" stroke="#000" stroke-width="1.0"/>
<line x1="371.45" y1="156.80" x2="359.95" y2="156.80" stroke="#000" stroke-width="1.0"/>
<line x1="45.55" y1="148.77" x2="51.05" y2="148.77" stroke="#000" stroke-width="1.0"/>
<line x1="371.45" y1="148.77" x2="365.95" y2="148.77" stroke="#000" stroke-width="1.0"/>
<line x1="45.55" y1="140.74" x2="51.05" y2="140.74" stroke="#000" stroke-width="1.0"/>
<line x1="371.45" y1="140.74" x2="365.95" y2="140.74" stroke="#000" stroke-width="1.0"/>
<line x1="45.55" y1="132.71" x2="51.05" y2="132.71" stroke="#000" stroke-width="1.0"/>
<line x1="371.45" y1="132.71" x2="365.95" y2="132.71" stroke="#000" stroke-width="1.0"/>
<line x1="45.55" y1="124.68" x2="57.05" y2="124.68" stroke="#000" stroke-width="1.0"/>
<line x1="371.45" y1="124.68" x2="359.95" y2="124.68" stroke="#000" stroke-width="1.0"/>
<line x1="45.55" y1="116.65" x2="51.05" y2="116.65" stroke="#000" stroke-width="1.0"/>
<line x1="371.45" y1="116.65" x2="365.95" y2="116.65" stroke="#000" stroke-width="1.0"/>
<line x1="45.55" y1="108.62" x2="51.05" y2="108.62" stroke="#000" stroke-width="1.0"/>
<line x1="371.45" y1="108.62" x2="365.95" y2="108.62" stroke="#000" stroke-width="1.0"/>
<line x1="45.55" y1="100.59" x2="51.05" y2="100.59" stroke="#000" stroke-width="1.0"/>
<line x1="371.45" y1="100.59" x2="365.95" y2="100.59" stroke="#000" stroke-width="1.0"/>
<line x1="45.55" y1="92.56" x2="57.05" y2="92.56" stroke="#000" stroke-width="1.0"/>
<line x1="371.45" y1="92.56" x2="359.95" y2="92.56" stroke="#000" stroke-width="1.0"/>
<line x1="45.55" y1="84.53" x2="51.05" y2="84.53" stroke="#000" stroke-width="1.0"/>
<line x1="371.45" y1="84.53" x2="365.95" y2="84.53" stroke="#000" stroke-width="1.0"/>
<line x1="45.55" y1="76.50" x2="51.05" y2="76.50" stroke="#000" stroke-width="1.0"/>
<line x1="371.45" y1="76.50" x2="365.95" y2="76.50" stroke="#000" stroke-width="1.0"/>
<line x1="45.55" y1="68.47" x2="51.05" y2="68.47" stroke="#000" stroke-width="1.0"/>
<line x1="371.45" y1="68.47" x2="365.95" y2="68.47" stroke="#000" stroke-width="1.0"/>
<line x1="45.55" y1="60.44" x2="57.05" y2="60.44" stroke="#000" stroke-width="1.0"/>
<line x1="371.45" y1="60.44" x2="359.95" y2="60.44" stroke="#000" stroke-width="1.0"/>
<line x1="45.55" y1="52.41" x2="51.05" y2="52.41" stroke="#000" stroke-width="1.0"/>
<line x1="371.45" y1="52.41" x2="365.95" y2="52.41" stroke="#000" stroke-width="1.0"/>
<line x1="45.55" y1="44.38" x2="51.05" y2="44.38" stroke="#000" stroke-width="1.0"/>
<line x1="371.45" y1="44.38" x2="365.95" y2="44.38" stroke="#000" stroke-width="1.0"/>
<line x1="45.55" y1="36.35" x2="51.05" y2="36.35" stroke="#000" stroke-width="1.0"/>
<line x1="371.45" y1="36.35" x2="365.95" y2="36.35" stroke="#000" stroke-width="1.0"/>
<line x1="45.55" y1="28.32" x2="57.05" y2="28.32" stroke="#000" stroke-width="1.0"/>
<line x1="371.45" y1="28.32" x2="359.95" y2="28.32" stroke="#000" stroke-width="1.0"/>
<line x1="45.55" y1="20.29" x2="51.05" y2="20.29" stroke="#000" stroke-width="1.0"/>
<line x1="371.45" y1="20.29" x2="365.95" y2="20.29" stroke="#000" stroke-width="1.0"/>
<line x1="45.30" y1="17.55" x2="45.30" y2="25.55" stroke="#000" stroke-width="1.0"/>
<line x1="45.30" y1="317.50" x2="45.30" y2="309.50" stroke="#000" stroke-width="1.0"/>
<line x1="45.30" y1="477.50" x2="45.30" y2="473.00" stroke="#000" stroke-width="1.0"/>
<line x1="45.30" y1="317.50" x2="45.30" y2="322.00" stroke="#000" stroke-width="1.0"/>
<line x1="53.41" y1="17.55" x2="53.41" y2="19.75" stroke="#000" stroke-width="1.0"/>
<line x1="53.41" y1="317.50" x2="53.41" y2="315.30" stroke="#000" stroke-width="1.0"/>
<line x1="53.41" y1="477.50" x2="53.41" y2="476.00" stroke="#000" stroke-width="1.0"/>
<line x1="53.41" y1="317.50" x2="53.41" y2="319.00" stroke="#000" stroke-width="1.0"/>
<line x1="61.51" y1="17.55" x2="61.51" y2="21.55" stroke="#000" stroke-width="1.0"/>
<line x1="61.51" y1="317.50" x2="61.51" y2="313.50" stroke="#000" stroke-width="1.0"/>
<line x1="61.51" y1="477.50" x2="61.51" y2="475.00" stroke="#000" stroke-width="1.0"/>
<line x1="61.51" y1="317.50" x2="61.51" y2="320.00" stroke="#000" stroke-width="1.0"/>
<line x1="69.61" y1="17.55" x2="69.61" y2="19.75" stroke="#000" stroke-width="1.0"/>
<line x1="69.61" y1="317.50" x2="69.61" y2="315.30" stroke="#000" stroke-width="1.0"/>
<line x1="69.61" y1="477.50" x2="69.61" y2="476.00" stroke="#000" stroke-width="1.0"/>
<line x1="69.61" y1="317.50" x2="69.61" y2="319.00" stroke="#000" stroke-width="1.0"/>
<line x1="77.72" y1="17.55" x2="77.72" y2="21.55" stroke="#000" stroke-width="1.0"/>
<line x1="77.72" y1="317.50" x2="77.72" y2="313.50" stroke="#000" stroke-width="1.0"/>
<line x1="77.72" y1="477.50" x2="77.72" y2="475.00" stroke="#000" stroke-width="1.0"/>
<line x1="77.72" y1="317.50" x2="77.72" y2="320.00" stroke="#000" stroke-width="1.0"/>
<line x1="85.82" y1="17.55" x2="85.82" y2="19.75" stroke="#000" stroke-width="1.0"/>
<line x1="85.82" y1="317.50" x2="85.82" y2="315.30" stroke="#000" stroke-width="1.0"/>
<line x1="85.82" y1="477.50" x2="85.82" y2="476.00" stroke="#000" stroke-width="1.0"/>
<line x1="85.82" y1="317.50" x2="85.82" y2="319.00" stroke="#000" stroke-width="1.0"/>
<line x1="93.93" y1="17.55" x2="93.93" y2="21.55" stroke="#000" stroke-width="1.0"/>
<line x1="93.93" y1="317.50" x2="93.93" y2="313.50" stroke="#000" stroke-width="1.0"/>
<line x1="93.93" y1="477.50" x2="93.93" y2="475.00" stroke="#000" stroke-width="1.0"/>
<line x1="93.93" y1="317.50" x2="93.93" y2="320.00" stroke="#000" stroke-width="1.0"/>
<line x1="102.03" y1="17.55" x2="102.03" y2="19.75" stroke="#000" stroke-width="1.0"/>
<line x1="102.03" y1="317.50" x2="102.03" y2="315.30" stroke="#000" stroke-width="1.0"/>
<line x1="102.03" y1="477.50" x2="102.03" y2="476.00" stroke="#000" stroke-width="1.0"/>
<line x1="102.03" y1="317.50" x2="102.03" y2="319.00" stroke="#000" stroke-width="1.0"/>
<line x1="110.14" y1="17.55" x2="110.14" y2="21.55" stroke="#000" stroke-width="1.0"/>
<line x1="110.14" y1="317.50" x2="110.14" y2="313.50" stroke="#000" stroke-width="1.0"/>
<line x1="110.14" y1="477.50" x2="110.14" y2="475.00" stroke="#000" stroke-width="1.0"/>
<line x1="110.14" y1="317.50" x2="110.14" y2="320.00" stroke="#000" stroke-width="1.0"/>
<line x1="118.24" y1="17.55" x2="118.24" y2="19.75" stroke="#000" stroke-width="1.0"/>
<line x1="118.24" y1="317.50" x2="118.24" y2="315.30" stroke="#000" stroke-width="1.0"/>
<line x1="118.24" y1="477.50" x2="118.24" y2="476.00" stroke="#000" stroke-width="1.0"/>
<line x1="118.24" y1="317.50" x2="118.24" y2="319.00" stroke="#000" stroke-width="1.0"/>
<line x1="126.35" y1="17.55" x2="126.35" y2="25.55" stroke="#000" stroke-width="1.0"/>
<line x1="126.35" y1="317.50" x2="126.35" y2="309.50" stroke="#000" stroke-width="1.0"/>
<line x1="126.35" y1="477.50" x2="126.35" y2="473.00" stroke="#000" stroke-width="1.0"/>
<line x1="126.35" y1="317.50" x2="126.35" y2="322.00" stroke="#000" stroke-width="1.0"/>
<line x1="134.45" y1="17.55" x2="134.45" y2="19.75" stroke="#000" stroke-width="1.0"/>
<line x1="134.45" y1="317.50" x2="134.45" y2="315.30" stroke="#000" stroke-width="1.0"/>
<line x1="134.45" y1="477.50" x2="134.45" y2="476.00" stroke="#000" stroke-width="1.0"/>
<line x1="134.45" y1="317.50" x2="134.45" y2="319.00" stroke="#000" stroke-width="1.0"/>
<line x1="142.56" y1="17.55" x2="142.56" y2="21.55" stroke="#000" stroke-width="1.0"/>
<line x1="142.56" y1="317.50" x2="142.56" y2="313.50" stroke="#000" stroke-width="1.0"/>
<line x1="142.56" y1="477.50" x2="142.56" y2="475.00" stroke="#000" stroke-width="1.0"/>
<line x1="142.56" y1="317.50" x2="142.56" y2="320.00" stroke="#000" stroke-width="1.0"/>
<line x1="150.66" y1="17.55" x2="150.66" y2="19.75" stroke="#000" stroke-width="1.0"/>
<line x1="150.66" y1="317.50" x2="150.66" y2="315.30" stroke="#000" stroke-width="1.0"/>
<line x1="150.66" y1="477.50" x2="150.66" y2="476.00" stroke="#000" stroke-width="1.0"/>
<line x1="150.66" y1="317.50" x2="150.66" y2="319.00" stroke="#000" stroke-width="1.0"/>
<line x1="158.77" y1="17.55" x2="158.77" y2="21.55" stroke="#000" stroke-width="1.0"/>
<line x1="158.77" y1="317.50" x2="158.77" y2="313.50" stroke="#000" stroke-width="1.0"/>
<line x1="158.77" y1="477.50" x2="158.77" y2="475.00" stroke="#000" stroke-width="1.0"/>
<line x1="158.77" y1="317.50" x2="158.77" y2="320.00" stroke="#000" stroke-width="1.0"/>
<line x1="166.88" y1="17.55" x2="166.88" y2="19.75" stroke="#000" stroke-width="1.0"/>
<line x1="166.88" y1="317.50" x2="166.88" y2="315.30" stroke="#000" stroke-width="1.0"/>
<line x1="166.88" y1="477.50" x2="166.88" y2="476.00" stroke="#000" stroke-width="1.0"/>
<line x1="166.88" y1="317.50" x2="166.88" y2="319.00" stroke="#000" stroke-width="1.0"/>
<line x1="174.98" y1="17.55" x2="174.98" y2="21.55" stroke="#000" stroke-width="1.0"/>
<line x1="174.98" y1="317.50" x2="174.98" y2="313.50" stroke="#000" stroke-width="1.0"/>
<line x1="174.98" y1="477.50" x2="174.98" y2="475.00" stroke="#000" stroke-width="1.0"/>
<line x1="174.98" y1="317.50" x2="174.98" y2="320.00" stroke="#000" stroke-width="1.0"/>
<line x1="183.08" y1="17.55" x2="183.08" y2="19.75" stroke="#000" stroke-width="1.0"/>
<line x1="183.08" y1="317.50" x2="183.08" y2="315.30" stroke="#000" stroke-width="1.0"/>
<line x1="183.08" y1="477.50" x2="183.08" y2="476.00" stroke="#000" stroke-width="1.0"/>
<line x1="183.08" y1="317.50" x2="183.08" y2="319.00" stroke="#000" stroke-width="1.0"/>
<line x1="191.19" y1="17.55" x2="191.19" y2="21.55" stroke="#000" stroke-width="1.0"/>
<line x1="191.19" y1="317.50" x2="191.19" y2="313.50" stroke="#000" stroke-width="1.0"/>
<line x1="191.19" y1="477.50" x2="191.19" y2="475.00" stroke="#000" stroke-width="1.0"/>
<line x1="191.19" y1="317.50" x2="191.19" y2="320.00" stroke="#000" stroke-width="1.0"/>
<line x1="199.30" y1="17.55" x2="199.30" y2="19.75" stroke="#000" stroke-width="1.0"/>
<line x1="199.30" y1="317.50" x2="199.30" y2="315.30" stroke="#000" stroke-width="1.0"/>
<line x1="199.30" y1="477.50" x2="199.30" y2="476.00" stroke="#000" stroke-width="1.0"/>
<line x1="199.30" y1="317.50" x2="199.30" y2="319.00" stroke="#000" stroke-width="1.0"/>
<line x1="207.40" y1="17.55" x2="207.40" y2="25.55" stroke="#000" stroke-width="1.0"/>
<line x1="207.40" y1="317.50" x2="207.40" y2="309.50" stroke="#000" stroke-width="1.0"/>
<line x1="207.40" y1="477.50" x2="207.40" y2="473.00" stroke="#000" stroke-width="1.0"/>
<line x1="207.40" y1="317.50" x2="207.40" y2="322.00" stroke="#000" stroke-width="1.0"/>
<line x1="215.50" y1="17.55" x2="215.50" y2="19.75" stroke="#000" stroke-width="1.0"/>
<line x1="215.50" y1="317.50" x2="215.50" y2="315.30" stroke="#000" stroke-width="1.0"/>
<line x1="215.50" y1="477.50" x2="215.50" y2="476.00" stroke="#000" stroke-width="1.0"/>
<line x1="215.50" y1="317.50" x2="215.50" y2="319.00" stroke="#000" stroke-width="1.0"/>
<line x1="223.61" y1="17.55" x2="223.61" y2="21.55" stroke="#000" stroke-width="1.0"/>
<line x1="223.61" y1="317.50" x2="223.61" y2="313.50" stroke="#000" stroke-width="1.0"/>
<line x1="223.61" y1="477.50" x2="223.61" y2="475.00" stroke="#000" stroke-width="1.0"/>
<line x1="223.61" y1="317.50" x2="223.61" y2="320.00" stroke="#000" stroke-width="1.0"/>
<line x1="231.71" y1="17.55" x2="231.71" y2="19.75" stroke="#000" stroke-width="1.0"/>
<line x1="231.71" y1="317.50" x2="231.71" y2="315.30" stroke="#000" stroke-width="1.0"/>
<line x1="231.71" y1="477.50" x2="231.71" y2="476.00" stroke="#000" stroke-width="1.0"/>
<line x1="231.71" y1="317.50" x2="231.71" y2="319.00" stroke="#000" stroke-width="1.0"/>
<line x1="239.82" y1="17.55" x2="239.82" y2="21.55" stroke="#000" stroke-width="1.0"/>
<line x1="239.82" y1="317.50" x2="239.82" y2="313.50" stroke="#000" stroke-width="1.0"/>
<line x1="239.82" y1="477.50" x2="239.82" y2="475.00" stroke="#000" stroke-width="1.0"/>
<line x1="239.82" y1="317.50" x2="239.82" y2="320.00" stroke="#000" stroke-width="1.0"/>
<line x1="247.93" y1="17.55" x2="247.93" y2="19.75" stroke="#000" stroke-width="1.0"/>
<line x1="247.93" y1="317.50" x2="247.93" y2="315.30" stroke="#000" stroke-width="1.0"/>
<line x1="247.93" y1="477.50" x2="247.93" y2="476.00" stroke="#000" stroke-width="1.0"/>
<line x1="247.93" y1="317.50" x2="247.93" y2="319.00" stroke="#000" stroke-width="1.0"/>
<line x1="256.03" y1="17.55" x2="256.03" y2="21.55" stroke="#000" stroke-width="1.0"/>
<line x1="256.03" y1="317.50" x2="256.03" y2="313.50" stroke="#000" stroke-width="1.0"/>
<line x1="256.03" y1="477.50" x2="256.03" y2="475.00" stroke="#000" stroke-width="1.0"/>
<line x1="256.03" y1="317.50" x2="256.03" y2="320.00" stroke="#000" stroke-width="1.0"/>
<line x1="264.13" y1="17.55" x2="264.13" y2="19.75" stroke="#000" stroke-width="1.0"/>
<line x1="264.13" y1="317.50" x2="264.13" y2="315.30" stroke="#000" stroke-width="1.0"/>
<line x1="264.13" y1="477.50" x2="264.13" y2="476.00" stroke="#000" stroke-width="1.0"/>
<line x1="264.13" y1="317.50" x2="264.13" y2="319.00" stroke="#000" stroke-width="1.0"/>
<line x1="272.24" y1="17.55" x2="272.24" y2="21.55" stroke="#000" stroke-width="1.0"/>
<line x1="272.24" y1="317.50" x2="272.24" y2="313.50" stroke="#000" stroke-width="1.0"/>
<line x1="272.24" y1="477.50" x2="272.24" y2="475.00" stroke="#000" stroke-width="1.0"/>
<line x1="272.24" y1="317.50" x2="272.24" y2="320.00" stroke="#000" stroke-width="1.0"/>
<line x1="280.34" y1="17.55" x2="280.34" y2="19.75" stroke="#000" stroke-width="1.0"/>
<line x1="280.34" y1="317.50" x2="280.34" y2="315.30" stroke="#000" stroke-width="1.0"/>
<line x1="280.34" y1="477.50" x2="280.34" y2="476.00" stroke="#000" stroke-width="1.0"/>
<line x1="280.34" y1="317.50" x2="280.34" y2="319.00" stroke="#000" stroke-width="1.0"/>
<line x1="288.45" y1="17.55" x2="288.45" y2="25.55" stroke="#000" stroke-width="1.0"/>
<line x1="288.45" y1="317.50" x2="288.45" y2="309.50" stroke="#000" stroke-width="1.0"/>
<line x1="288.45" y1="477.50" x2="288.45" y2="473.00" stroke="#000" stroke-width="1.0"/>
<line x1="288.45" y1="317.50" x2="288.45" y2="322.00" stroke="#000" stroke-width="1.0"/>
<line x1="296.56" y1="17.55" x2="296.56" y2="19.75" stroke="#000" stroke-width="1.0"/>
<line x1="296.56" y1="317.50" x2="296.56" y2="315.30" stroke="#000" stroke-width="1.0"/>
<line x1="296.56" y1="477.50" x2="296.56" y2="476.00" stroke="#000" stroke-width="1.0"/>
<line x1="296.56" y1="317.50" x2="296.56" y2="319.00" stroke="#000" stroke-width="1.0"/>
<line x1="304.66" y1="17.55" x2="304.66" y2="21.55" stroke="#000" stroke-width="1.0"/>
<line x1="304.66" y1="317.50" x2="304.66" y2="313.50" stroke="#000" stroke-width="1.0"/>
<line x1="304.66" y1="477.50" x2="304.66" y2="475.00" stroke="#000" stroke-width="1.0"/>
<line x1="304.66" y1="317.50" x2="304.66" y2="320.00" stroke="#000" stroke-width="1.0"/>
<line x1="312.76" y1="17.55" x2="312.76" y2="19.75" stroke="#000" stroke-width="1.0"/>
<line x1="312.76" y1="317.50" x2="312.76" y2="315.30" stroke="#000" stroke-width="1.0"/>
<line x1="312.76" y1="477.50" x2="312.76" y2="476.00" stroke="#000" stroke-width="1.0"/>
<line x1="312.76" y1="317.50" x2="312.76" y2="319.00" stroke="#000" stroke-width="1.0"/>
<line x1="320.87" y1="17.55" x2="320.87" y2="21.55" stroke="#000" stroke-width="1.0"/>
<line x1="320.87" y1="317.50" x2="320.87" y2="313.50" stroke="#000" stroke-width="1.0"/>
<line x1="320.87" y1="477.50" x2="320.87" y2="475.00" stroke="#000" stroke-width="1.0"/>
<line x1="320.87" y1="317.50" x2="320.87" y2="320.00" stroke="#000" stroke-width="1.0"/>
<line x1="328.98" y1="17.55" x2="328.98" y2="19.75" stroke="#000" stroke-width="1.0"/>
<line x1="328.98" y1="317.50" x2="328.98" y2="315.30" stroke="#000" stroke-width="1.0"/>
<line x1="328.98" y1="477.50" x2="328.98" y2="476.00" stroke="#000" stroke-width="1.0"/>
<line x1="328.98" y1="317.50" x2="328.98" y2="319.00" stroke="#000" stroke-width="1.0"/>
<line x1="337.08" y1="17.55" x2="337.08" y2="21.55" stroke="#000" stroke-width="1.0"/>
<line x1="337.08" y1="317.50" x2="337.08" y2="313.50" stroke="#000" stroke-width="1.0"/>
<line x1="337.08" y1="477.50" x2="337.08" y2="475.00" stroke="#000" stroke-width="1.0"/>
<line x1="337.08" y1="317.50" x2="337.08" y2="320.00" stroke="#000" stroke-width="1.0"/>
<line x1="345.19" y1="17.55" x2="345.19" y2="19.75" stroke="#000" stroke-width="1.0"/>
<line x1="345.19" y1="317.50" x2="345.19" y2="315.30" stroke="#000" stroke-width="1.0"/>
<line x1="345.19" y1="477.50" x2="345.19" y2="476.00" stroke="#000" stroke-width="1.0"/>
<line x1="345.19" y1="317.50" x2="345.19" y2="319.00" stroke="#000" stroke-width="1.0"/>
<line x1="353.29" y1="17.55" x2="353.29" y2="21.55" stroke="#000" stroke-width="1.0"/>
<line x1="353.29" y1="317.50" x2="353.29" y2="313.50" stroke="#000" stroke-width="1.0"/>
<line x1="353.29" y1="477.50" x2="353.29" y2="475.00" stroke="#000" stroke-width="1.0"/>
<line x1="353.29" y1="317.50" x2="353.29" y2="320.00" stroke="#000" stroke-width="1.0"/>
<line x1="361.40" y1="17.55" x2="361.40" y2="19.75" stroke="#000" stroke-width="1.0"/>
<line x1="361.40" y1="317.50" x2="361.40" y2="315.30" stroke="#000" stroke-width="1.0"/>
<line x1="361.40" y1="477.50" x2="361.40" y2="476.00" stroke="#000" stroke-width="1.0"/>
<line x1="361.40" y1="317.50" x2="361.40" y2="319.00" stroke="#000" stroke-width="1.0"/>
<line x1="369.50" y1="17.55" x2="369.50" y2="25.55" stroke="#000" stroke-width="1.0"/>
<line x1="369.50" y1="317.50" x2="369.50" y2="309.50" stroke="#000" stroke-width="1.0"/>
<line x1="369.50" y1="477.50" x2="369.50" y2="473.00" stroke="#000" stroke-width="1.0"/>
<line x1="369.50" y1="317.50" x2="369.50" y2="322.00" stroke="#000" stroke-width="1.0"/>
<line x1="45.55" y1="458.30" x2="52.75" y2="458.30" stroke="#000" stroke-width="1.0"/>
<line x1="371.45" y1="458.30" x2="364.25" y2="458.30" stroke="#000" stroke-width="1.0"/>
<line x1="45.55" y1="442.39" x2="50.95" y2="442.39" stroke="#000" stroke-width="1.0"/>
<line x1="371.45" y1="442.39" x2="366.05" y2="442.39" stroke="#000" stroke-width="1.0"/>
<line x1="45.55" y1="428.93" x2="50.95" y2="428.93" stroke="#000" stroke-width="1.0"/>
<line x1="371.45" y1="428.93" x2="366.05" y2="428.93" stroke="#000" stroke-width="1.0"/>
<line x1="45.55" y1="417.28" x2="50.95" y2="417.28" stroke="#000" stroke-width="1.0"/>
<line x1="371.45" y1="417.28" x2="366.05" y2="417.28" stroke="#000" stroke-width="1.0"/>
<line x1="45.55" y1="407.00" x2="50.95" y2="407.00" stroke="#000" stroke-width="1.0"/>
<line x1="371.45" y1="407.00" x2="366.05" y2="407.00" stroke="#000" stroke-width="1.0"/>
<line x1="45.55" y1="397.80" x2="55.05" y2="397.80" stroke="#000" stroke-width="1.0"/>
<line x1="371.45" y1="397.80" x2="361.95" y2="397.80" stroke="#000" stroke-width="1.0"/>
<line x1="45.55" y1="389.48" x2="50.95" y2="389.48" stroke="#000" stroke-width="1.0"/>
<line x1="371.45" y1="389.48" x2="366.05" y2="389.48" stroke="#000" stroke-width="1.0"/>
<line x1="45.55" y1="381.89" x2="50.95" y2="381.89" stroke="#000" stroke-width="1.0"/>
<line x1="371.45" y1="381.89" x2="366.05" y2="381.89" stroke="#000" stroke-width="1.0"/>
<line x1="45.55" y1="374.90" x2="50.95" y2="374.90" stroke="#000" stroke-width="1.0"/>
<line x1="371.45" y1="374.90" x2="366.05" y2="374.90" stroke="#000" stroke-width="1.0"/>
<line x1="45.55" y1="368.43" x2="50.95" y2="368.43" stroke="#000" stroke-width="1.0"/>
<line x1="371.45" y1="368.43" x2="366.05" y2="368.43" stroke="#000" stroke-width="1.0"/>
<line x1="45.55" y1="362.41" x2="52.75" y2="362.41" stroke="#000" stroke-width="1.0"/>
<line x1="371.45" y1="362.41" x2="364.25" y2="362.41" stroke="#000" stroke-width="1.0"/>
<line x1="45.55" y1="356.78" x2="50.95" y2="356.78" stroke="#000" stroke-width="1.0"/>
<line x1="371.45" y1="356.78" x2="366.05" y2="356.78" stroke="#000" stroke-width="1.0"/>
<line x1="45.55" y1="351.49" x2="50.95" y2="351.49" stroke="#000" stroke-width="1.0"/>
<line x1="371.45" y1="351.49" x2="366.05" y2="351.49" stroke="#000" stroke-width="1.0"/>
<line x1="45.55" y1="346.50" x2="50.95" y2="346.50" stroke="#000" stroke-width="1.0"/>
<line x1="371.45" y1="346.50" x2="366.05" y2="346.50" stroke="#000" stroke-width="1.0"/>
<line x1="45.55" y1="341.78" x2="50.95" y2="341.78" stroke="#000" stroke-width="1.0"/>
<line x1="371.45" y1="341.78" x2="366.05" y2="341.78" stroke="#000" stroke-width="1.0"/>
<line x1="45.55" y1="337.30" x2="52.75" y2="337.30" stroke="#000" stroke-width="1.0"/>
<line x1="371.45" y1="337.30" x2="364.25" y2="337.30" stroke="#000" stroke-width="1.0"/>
<line x1="45.55" y1="333.04" x2="50.95" y2="333.04" stroke="#000" stroke-width="1.0"/>
<line x1="371.45" y1="333.04" x2="366.05" y2="333.04" stroke="#000" stroke-width="1.0"/>
<line x1="45.55" y1="328.98" x2="50.95" y2="328.98" stroke="#000" stroke-width="1.0"/>
<line x1="371.45" y1="328.98" x2="366.05" y2="328.98" stroke="#000" stroke-width="1.0"/>
<line x1="45.55" y1="325.10" x2="50.95" y2="325.10" stroke="#000" stroke-width="1.0"/>
<line x1="371.45" y1="325.10" x2="366.05" y2="325.10" stroke="#000" stroke-width="1.0"/>
<line x1="45.55" y1="321.39" x2="50.95" y2="321.39" stroke="#000" stroke-width="1.0"/>
<line x1="371.45" y1="321.39" x2="366.05" y2="321.39" stroke="#000" stroke-width="1.0"/>
<line x1="45.55" y1="317.82" x2="50.95" y2="317.82" stroke="#000" stroke-width="1.0"/>
<line x1="371.45" y1="317.82" x2="366.05" y2="317.82" stroke="#000" stroke-width="1.0"/>
<rect x="45.55" y="17.55" width="325.9" height="299.95" fill="none" stroke="#000" stroke-width="1.0"/>
<rect x="45.55" y="317.5" width="325.9" height="160.0" fill="none" stroke="#000" stroke-width="1.0"/>
<line x1="45.05" y1="478.2" x2="371.95" y2="478.2" stroke="#000" stroke-width="0.6"/>
<text x="38.60" y="341.40" font-size="11.5" text-anchor="end" fill="#000" >2</text>
<text x="374.40" y="341.40" font-size="11.5" text-anchor="start" fill="#000" >2</text>
<text x="38.60" y="401.90" font-size="11.5" text-anchor="end" fill="#000" >1</text>
<text x="374.40" y="401.90" font-size="11.5" text-anchor="start" fill="#000" >1</text>
<text x="38.60" y="462.40" font-size="11.5" text-anchor="end" fill="#000" >0.5</text>
<text x="374.40" y="462.40" font-size="11.5" text-anchor="start" fill="#000" >0.5</text>
<text x="45.60" y="489.00" font-size="11" text-anchor="middle" fill="#000" >0</text>
<text x="126.65" y="489.00" font-size="11" text-anchor="middle" fill="#000" >50</text>
<text x="207.70" y="489.00" font-size="11" text-anchor="middle" fill="#000" >100</text>
<text x="288.75" y="489.00" font-size="11" text-anchor="middle" fill="#000" >150</text>
<text x="369.80" y="489.00" font-size="11" text-anchor="middle" fill="#000" >200</text>
<text x="51.40" y="14.40" font-size="12" text-anchor="start" fill="#000" >7000 GeV pp</text>
<text x="364.80" y="14.70" font-size="12" text-anchor="end" fill="#000" >Jets</text>
<rect x="73.80" y="59.40" width="5.8" height="5.8" fill="#000"/>
<line x1="64.2" y1="75.2" x2="88.8" y2="75.2" stroke="#6a6aff" stroke-width="1"/>
<path d="M74.20,77.80 L79.20,77.80 L76.70,72.60 Z" fill="#0000e6"/>
<line x1="64.2" y1="88.0" x2="88.8" y2="88.0" stroke="#b070d4" stroke-width="1"/>
<path d="M74.20,90.60 L79.20,90.60 L76.70,85.40 Z" fill="#7a00b4"/>
<line x1="64.2" y1="100.9" x2="88.8" y2="100.9" stroke="#68b8dc" stroke-width="1"/>
<path d="M74.20,103.50 L79.20,103.50 L76.70,98.30 Z" fill="#0083b4"/>
<text x="94.40" y="64.90" font-size="9.5" text-anchor="start" fill="#000" >ATLAS</text>
<text x="94.40" y="77.70" font-size="9.5" text-anchor="start" fill="#000" >Pythia 8.315 default</text>
<text x="94.40" y="90.60" font-size="9.5" text-anchor="start" fill="#000" >Pythia 8.315 default-noFsr</text>
<text x="94.40" y="103.50" font-size="9.5" text-anchor="start" fill="#000" >Pythia 8.315 default-noRap</text>
<text x="57.8" y="42.9" font-size="12">Gap fraction vs Q</text>
<text x="149.70" y="49.50" font-size="8" text-anchor="start" fill="#000" >0</text>
<text x="158.20" y="42.90" font-size="12" text-anchor="start" fill="#000" >for 210&lt;#</text>
<text x="208.90" y="42.90" font-size="12" text-anchor="start" fill="#000" >P</text>
<text x="215.80" y="46.80" font-size="8" text-anchor="start" fill="#000" >T</text>
<line x1="208.7" y1="32.6" x2="221.7" y2="32.6" stroke="#000" stroke-width="1"/>
<text x="221.00" y="42.90" font-size="12" text-anchor="start" fill="#000" >&lt;240</text>
<text x="254.90" y="42.90" font-size="12" text-anchor="start" fill="#000" >4&lt;|&#916;y|&lt;5, Fwd/Bwd</text>
<text transform="translate(15.9,82.0) rotate(-90)" font-size="12.05">Gap fraction</text>
<text transform="translate(17.9,427.6) rotate(-90)" font-size="9.4">Ratio to ATLAS</text>
<text x="323.20" y="502.30" font-size="12.3" text-anchor="start" fill="#000" >Q</text>
<text x="332.00" y="507.00" font-size="8.8" text-anchor="start" fill="#000" >0</text>
<text x="372.30" y="502.30" font-size="12.3" text-anchor="end" fill="#000" >[GeV]</text>
<text transform="translate(380.2,128.1) rotate(-90)" font-size="9.5" fill="#666">Rivet 4.1.0, &#8805; 100k events</text>
<text transform="translate(381,313) rotate(-90)" font-size="9.4" fill="#666">mcplots.cern.ch [arXiv:2401.10621]</text>
</svg>
</body></html>
